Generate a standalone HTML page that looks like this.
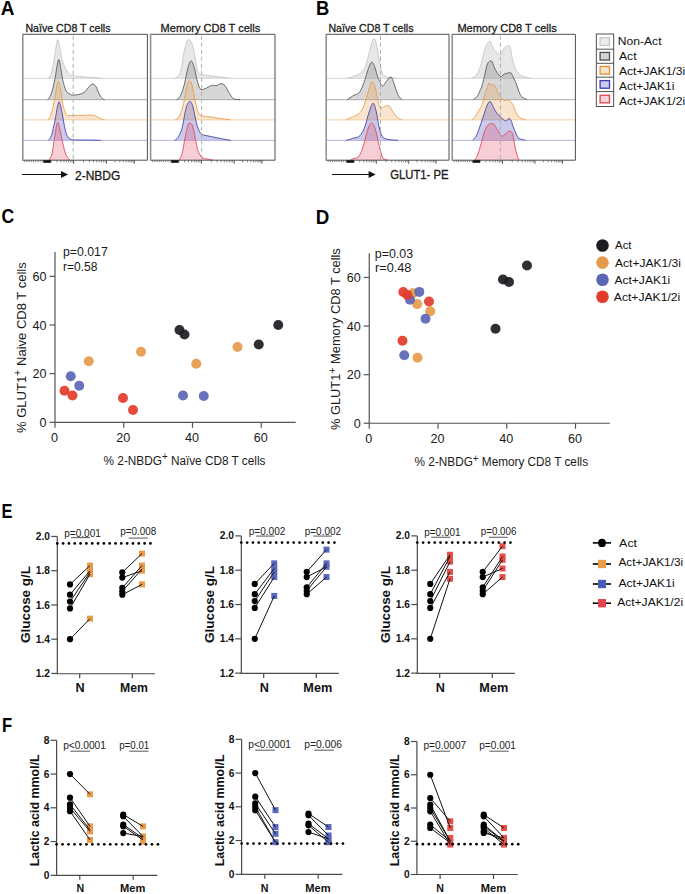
<!DOCTYPE html>
<html><head><meta charset="utf-8"><style>
html,body{margin:0;padding:0;background:#fff;}
svg{display:block;font-family:"Liberation Sans", sans-serif;}
</style></head><body>
<svg width="685" height="894" viewBox="0 0 685 894">
<rect width="685" height="894" fill="#fff"/>
<text x="0.79" y="14.60" font-size="19.50" font-weight="bold" fill="#000" textLength="13.73" lengthAdjust="spacingAndGlyphs">A</text>
<text x="315.98" y="14.70" font-size="19.50" font-weight="bold" fill="#000" textLength="13.31" lengthAdjust="spacingAndGlyphs">B</text>
<text x="1.38" y="223.40" font-size="19.50" font-weight="bold" fill="#000" textLength="12.70" lengthAdjust="spacingAndGlyphs">C</text>
<text x="315.86" y="223.50" font-size="19.50" font-weight="bold" fill="#000" textLength="13.54" lengthAdjust="spacingAndGlyphs">D</text>
<text x="1.49" y="517.90" font-size="19.50" font-weight="bold" fill="#000" textLength="10.94" lengthAdjust="spacingAndGlyphs">E</text>
<text x="1.93" y="731.80" font-size="19.50" font-weight="bold" fill="#000" textLength="10.13" lengthAdjust="spacingAndGlyphs">F</text>
<path d="M47.60,78.40 C48.17,77.73 49.90,77.57 51.00,74.40 C52.10,71.23 53.12,65.15 54.20,59.40 C55.28,53.65 56.53,41.73 57.50,39.90 C58.47,38.07 59.25,45.15 60.00,48.40 C60.75,51.65 61.00,55.90 62.00,59.40 C63.00,62.90 64.67,66.90 66.00,69.40 C67.33,71.90 68.58,73.30 70.00,74.40 C71.42,75.50 72.00,75.58 74.50,76.00 C77.00,76.42 81.58,76.63 85.00,76.90 C88.42,77.17 92.17,77.35 95.00,77.60 C97.83,77.85 100.83,78.27 102.00,78.40 L102.00,78.40 Z" fill="rgba(120,120,120,0.18)" stroke="none"/>
<line x1="22.80" y1="78.40" x2="147.40" y2="78.40" stroke="#d4d4d4" stroke-width="0.90"/>
<path d="M47.60,78.40 C48.17,77.73 49.90,77.57 51.00,74.40 C52.10,71.23 53.12,65.15 54.20,59.40 C55.28,53.65 56.53,41.73 57.50,39.90 C58.47,38.07 59.25,45.15 60.00,48.40 C60.75,51.65 61.00,55.90 62.00,59.40 C63.00,62.90 64.67,66.90 66.00,69.40 C67.33,71.90 68.58,73.30 70.00,74.40 C71.42,75.50 72.00,75.58 74.50,76.00 C77.00,76.42 81.58,76.63 85.00,76.90 C88.42,77.17 92.17,77.35 95.00,77.60 C97.83,77.85 100.83,78.27 102.00,78.40" fill="none" stroke="#bdbdbd" stroke-width="0.75" stroke-linejoin="round"/>
<path d="M47.60,99.70 C48.17,98.87 49.80,98.03 51.00,94.70 C52.20,91.37 53.55,85.53 54.80,79.70 C56.05,73.87 57.47,61.37 58.50,59.70 C59.53,58.03 60.30,66.37 61.00,69.70 C61.70,73.03 61.87,76.20 62.70,79.70 C63.53,83.20 64.78,88.28 66.00,90.70 C67.22,93.12 68.80,93.47 70.00,94.20 C71.20,94.93 71.53,95.10 73.20,95.10 C74.87,95.10 78.03,94.77 80.00,94.20 C81.97,93.63 83.50,92.95 85.00,91.70 C86.50,90.45 87.67,87.98 89.00,86.70 C90.33,85.42 91.83,84.00 93.00,84.00 C94.17,84.00 95.00,85.08 96.00,86.70 C97.00,88.32 98.00,91.78 99.00,93.70 C100.00,95.62 101.03,97.20 102.00,98.20 C102.97,99.20 104.33,99.45 104.80,99.70 L104.80,99.70 Z" fill="rgba(110,110,110,0.28)" stroke="none"/>
<line x1="22.80" y1="99.70" x2="147.40" y2="99.70" stroke="#a0a0a0" stroke-width="0.90"/>
<path d="M47.60,99.70 C48.17,98.87 49.80,98.03 51.00,94.70 C52.20,91.37 53.55,85.53 54.80,79.70 C56.05,73.87 57.47,61.37 58.50,59.70 C59.53,58.03 60.30,66.37 61.00,69.70 C61.70,73.03 61.87,76.20 62.70,79.70 C63.53,83.20 64.78,88.28 66.00,90.70 C67.22,93.12 68.80,93.47 70.00,94.20 C71.20,94.93 71.53,95.10 73.20,95.10 C74.87,95.10 78.03,94.77 80.00,94.20 C81.97,93.63 83.50,92.95 85.00,91.70 C86.50,90.45 87.67,87.98 89.00,86.70 C90.33,85.42 91.83,84.00 93.00,84.00 C94.17,84.00 95.00,85.08 96.00,86.70 C97.00,88.32 98.00,91.78 99.00,93.70 C100.00,95.62 101.03,97.20 102.00,98.20 C102.97,99.20 104.33,99.45 104.80,99.70" fill="none" stroke="#555555" stroke-width="0.85" stroke-linejoin="round"/>
<path d="M47.60,119.90 C48.17,119.07 49.85,118.23 51.00,114.90 C52.15,111.57 53.33,105.48 54.50,99.90 C55.67,94.32 56.92,82.73 58.00,81.40 C59.08,80.07 60.17,87.98 61.00,91.90 C61.83,95.82 62.25,101.40 63.00,104.90 C63.75,108.40 64.78,111.15 65.50,112.90 C66.22,114.65 65.72,114.98 67.30,115.40 C68.88,115.82 72.05,115.42 75.00,115.40 C77.95,115.38 82.50,115.38 85.00,115.30 C87.50,115.22 88.23,114.80 90.00,114.90 C91.77,115.00 93.93,115.32 95.60,115.90 C97.27,116.48 98.47,117.73 100.00,118.40 C101.53,119.07 104.00,119.65 104.80,119.90 L104.80,119.90 Z" fill="rgba(232,160,80,0.28)" stroke="none"/>
<line x1="22.80" y1="119.90" x2="147.40" y2="119.90" stroke="#f3cc9e" stroke-width="0.90"/>
<path d="M47.60,119.90 C48.17,119.07 49.85,118.23 51.00,114.90 C52.15,111.57 53.33,105.48 54.50,99.90 C55.67,94.32 56.92,82.73 58.00,81.40 C59.08,80.07 60.17,87.98 61.00,91.90 C61.83,95.82 62.25,101.40 63.00,104.90 C63.75,108.40 64.78,111.15 65.50,112.90 C66.22,114.65 65.72,114.98 67.30,115.40 C68.88,115.82 72.05,115.42 75.00,115.40 C77.95,115.38 82.50,115.38 85.00,115.30 C87.50,115.22 88.23,114.80 90.00,114.90 C91.77,115.00 93.93,115.32 95.60,115.90 C97.27,116.48 98.47,117.73 100.00,118.40 C101.53,119.07 104.00,119.65 104.80,119.90" fill="none" stroke="#e99d50" stroke-width="0.90" stroke-linejoin="round"/>
<path d="M48.30,140.40 C48.83,139.57 50.38,138.73 51.50,135.40 C52.62,132.07 53.78,125.98 55.00,120.40 C56.22,114.82 57.63,103.23 58.80,101.90 C59.97,100.57 61.05,108.32 62.00,112.40 C62.95,116.48 63.67,122.57 64.50,126.40 C65.33,130.23 65.87,133.22 67.00,135.40 C68.13,137.58 69.13,138.73 71.30,139.50 C73.47,140.27 76.88,139.90 80.00,140.00 C83.12,140.10 86.53,140.03 90.00,140.10 C93.47,140.17 99.00,140.35 100.80,140.40 L100.80,140.40 Z" fill="rgba(80,80,190,0.30)" stroke="none"/>
<line x1="22.80" y1="140.40" x2="147.40" y2="140.40" stroke="#aeaede" stroke-width="0.90"/>
<path d="M48.30,140.40 C48.83,139.57 50.38,138.73 51.50,135.40 C52.62,132.07 53.78,125.98 55.00,120.40 C56.22,114.82 57.63,103.23 58.80,101.90 C59.97,100.57 61.05,108.32 62.00,112.40 C62.95,116.48 63.67,122.57 64.50,126.40 C65.33,130.23 65.87,133.22 67.00,135.40 C68.13,137.58 69.13,138.73 71.30,139.50 C73.47,140.27 76.88,139.90 80.00,140.00 C83.12,140.10 86.53,140.03 90.00,140.10 C93.47,140.17 99.00,140.35 100.80,140.40" fill="none" stroke="#4545ab" stroke-width="0.90" stroke-linejoin="round"/>
<path d="M49.00,160.00 C49.50,159.00 51.08,157.67 52.00,154.00 C52.92,150.33 53.58,143.28 54.50,138.00 C55.42,132.72 56.58,123.63 57.50,122.30 C58.42,120.97 59.08,126.38 60.00,130.00 C60.92,133.62 62.00,139.83 63.00,144.00 C64.00,148.17 64.83,152.33 66.00,155.00 C67.17,157.67 69.33,159.17 70.00,160.00 L70.00,160.00 Z" fill="rgba(225,75,100,0.27)" stroke="none"/>
<path d="M49.00,160.00 C49.50,159.00 51.08,157.67 52.00,154.00 C52.92,150.33 53.58,143.28 54.50,138.00 C55.42,132.72 56.58,123.63 57.50,122.30 C58.42,120.97 59.08,126.38 60.00,130.00 C60.92,133.62 62.00,139.83 63.00,144.00 C64.00,148.17 64.83,152.33 66.00,155.00 C67.17,157.67 69.33,159.17 70.00,160.00" fill="none" stroke="#e24c5c" stroke-width="0.90" stroke-linejoin="round"/>
<line x1="73.20" y1="35.80" x2="73.20" y2="160.20" stroke="#ababab" stroke-width="0.95" stroke-dasharray="4,3"/>
<path d="M22.80,34.30 H147.40 V160.20 H22.80" fill="none" stroke="#4e4e4e" stroke-width="1.0"/>
<line x1="22.80" y1="33.80" x2="22.80" y2="160.70" stroke="#8c8c8c" stroke-width="1.50"/>
<line x1="51.17" y1="160.20" x2="51.17" y2="162.40" stroke="#555" stroke-width="0.70"/>
<line x1="56.83" y1="160.20" x2="56.83" y2="162.40" stroke="#555" stroke-width="0.70"/>
<line x1="60.84" y1="160.20" x2="60.84" y2="162.40" stroke="#555" stroke-width="0.70"/>
<line x1="63.96" y1="160.20" x2="63.96" y2="162.40" stroke="#555" stroke-width="0.70"/>
<line x1="66.51" y1="160.20" x2="66.51" y2="162.40" stroke="#555" stroke-width="0.70"/>
<line x1="68.66" y1="160.20" x2="68.66" y2="162.40" stroke="#555" stroke-width="0.70"/>
<line x1="70.52" y1="160.20" x2="70.52" y2="162.40" stroke="#555" stroke-width="0.70"/>
<line x1="72.17" y1="160.20" x2="72.17" y2="162.40" stroke="#555" stroke-width="0.70"/>
<line x1="83.54" y1="160.20" x2="83.54" y2="162.40" stroke="#555" stroke-width="0.70"/>
<line x1="89.33" y1="160.20" x2="89.33" y2="162.40" stroke="#555" stroke-width="0.70"/>
<line x1="93.44" y1="160.20" x2="93.44" y2="162.40" stroke="#555" stroke-width="0.70"/>
<line x1="96.63" y1="160.20" x2="96.63" y2="162.40" stroke="#555" stroke-width="0.70"/>
<line x1="99.23" y1="160.20" x2="99.23" y2="162.40" stroke="#555" stroke-width="0.70"/>
<line x1="101.44" y1="160.20" x2="101.44" y2="162.40" stroke="#555" stroke-width="0.70"/>
<line x1="103.34" y1="160.20" x2="103.34" y2="162.40" stroke="#555" stroke-width="0.70"/>
<line x1="105.03" y1="160.20" x2="105.03" y2="162.40" stroke="#555" stroke-width="0.70"/>
<line x1="114.90" y1="160.20" x2="114.90" y2="162.40" stroke="#555" stroke-width="0.70"/>
<line x1="119.79" y1="160.20" x2="119.79" y2="162.40" stroke="#555" stroke-width="0.70"/>
<line x1="123.26" y1="160.20" x2="123.26" y2="162.40" stroke="#555" stroke-width="0.70"/>
<line x1="125.95" y1="160.20" x2="125.95" y2="162.40" stroke="#555" stroke-width="0.70"/>
<line x1="128.15" y1="160.20" x2="128.15" y2="162.40" stroke="#555" stroke-width="0.70"/>
<line x1="130.01" y1="160.20" x2="130.01" y2="162.40" stroke="#555" stroke-width="0.70"/>
<line x1="131.62" y1="160.20" x2="131.62" y2="162.40" stroke="#555" stroke-width="0.70"/>
<line x1="133.05" y1="160.20" x2="133.05" y2="162.40" stroke="#555" stroke-width="0.70"/>
<line x1="73.64" y1="160.20" x2="73.64" y2="163.80" stroke="#444" stroke-width="0.90"/>
<line x1="106.53" y1="160.20" x2="106.53" y2="163.80" stroke="#444" stroke-width="0.90"/>
<line x1="134.32" y1="160.20" x2="134.32" y2="163.80" stroke="#444" stroke-width="0.90"/>
<line x1="24.80" y1="160.20" x2="24.80" y2="162.20" stroke="#555" stroke-width="0.70"/>
<line x1="27.00" y1="160.20" x2="27.00" y2="162.20" stroke="#555" stroke-width="0.70"/>
<line x1="29.20" y1="160.20" x2="29.20" y2="162.20" stroke="#555" stroke-width="0.70"/>
<line x1="31.40" y1="160.20" x2="31.40" y2="162.20" stroke="#555" stroke-width="0.70"/>
<line x1="33.60" y1="160.20" x2="33.60" y2="162.20" stroke="#555" stroke-width="0.70"/>
<line x1="35.80" y1="160.20" x2="35.80" y2="162.20" stroke="#555" stroke-width="0.70"/>
<line x1="38.00" y1="160.20" x2="38.00" y2="162.20" stroke="#555" stroke-width="0.70"/>
<line x1="40.20" y1="160.20" x2="40.20" y2="162.20" stroke="#555" stroke-width="0.70"/>
<line x1="42.40" y1="160.20" x2="42.40" y2="162.20" stroke="#555" stroke-width="0.70"/>
<line x1="44.60" y1="160.20" x2="44.60" y2="162.20" stroke="#555" stroke-width="0.70"/>
<line x1="46.80" y1="160.20" x2="46.80" y2="162.20" stroke="#555" stroke-width="0.70"/>
<line x1="49.00" y1="160.20" x2="49.00" y2="162.20" stroke="#555" stroke-width="0.70"/>
<rect x="43.36" y="160.20" width="7.5" height="2.6" fill="#111"/>
<path d="M174.50,78.40 C175.08,78.07 176.92,77.73 178.00,76.40 C179.08,75.07 180.00,74.40 181.00,70.40 C182.00,66.40 182.85,57.48 184.00,52.40 C185.15,47.32 186.53,41.23 187.90,39.90 C189.27,38.57 191.02,41.65 192.20,44.40 C193.38,47.15 194.20,52.40 195.00,56.40 C195.80,60.40 196.33,65.57 197.00,68.40 C197.67,71.23 198.00,72.32 199.00,73.40 C200.00,74.48 200.33,74.40 203.00,74.90 C205.67,75.40 211.33,75.98 215.00,76.40 C218.67,76.82 222.33,77.07 225.00,77.40 C227.67,77.73 230.00,78.23 231.00,78.40 L231.00,78.40 Z" fill="rgba(120,120,120,0.18)" stroke="none"/>
<line x1="150.60" y1="78.40" x2="275.00" y2="78.40" stroke="#d4d4d4" stroke-width="0.90"/>
<path d="M174.50,78.40 C175.08,78.07 176.92,77.73 178.00,76.40 C179.08,75.07 180.00,74.40 181.00,70.40 C182.00,66.40 182.85,57.48 184.00,52.40 C185.15,47.32 186.53,41.23 187.90,39.90 C189.27,38.57 191.02,41.65 192.20,44.40 C193.38,47.15 194.20,52.40 195.00,56.40 C195.80,60.40 196.33,65.57 197.00,68.40 C197.67,71.23 198.00,72.32 199.00,73.40 C200.00,74.48 200.33,74.40 203.00,74.90 C205.67,75.40 211.33,75.98 215.00,76.40 C218.67,76.82 222.33,77.07 225.00,77.40 C227.67,77.73 230.00,78.23 231.00,78.40" fill="none" stroke="#bdbdbd" stroke-width="0.75" stroke-linejoin="round"/>
<path d="M176.40,99.70 C177.00,99.20 178.73,99.03 180.00,96.70 C181.27,94.37 182.67,90.53 184.00,85.70 C185.33,80.87 186.82,71.83 188.00,67.70 C189.18,63.57 190.10,61.07 191.10,60.90 C192.10,60.73 193.02,63.57 194.00,66.70 C194.98,69.83 196.00,76.03 197.00,79.70 C198.00,83.37 198.83,87.12 200.00,88.70 C201.17,90.28 202.67,89.45 204.00,89.20 C205.33,88.95 206.57,87.87 208.00,87.20 C209.43,86.53 211.27,85.45 212.60,85.20 C213.93,84.95 214.60,85.95 216.00,85.70 C217.40,85.45 219.50,83.70 221.00,83.70 C222.50,83.70 223.67,84.20 225.00,85.70 C226.33,87.20 227.57,90.53 229.00,92.70 C230.43,94.87 231.77,97.53 233.60,98.70 C235.43,99.87 238.93,99.53 240.00,99.70 L240.00,99.70 Z" fill="rgba(110,110,110,0.28)" stroke="none"/>
<line x1="150.60" y1="99.70" x2="275.00" y2="99.70" stroke="#a0a0a0" stroke-width="0.90"/>
<path d="M176.40,99.70 C177.00,99.20 178.73,99.03 180.00,96.70 C181.27,94.37 182.67,90.53 184.00,85.70 C185.33,80.87 186.82,71.83 188.00,67.70 C189.18,63.57 190.10,61.07 191.10,60.90 C192.10,60.73 193.02,63.57 194.00,66.70 C194.98,69.83 196.00,76.03 197.00,79.70 C198.00,83.37 198.83,87.12 200.00,88.70 C201.17,90.28 202.67,89.45 204.00,89.20 C205.33,88.95 206.57,87.87 208.00,87.20 C209.43,86.53 211.27,85.45 212.60,85.20 C213.93,84.95 214.60,85.95 216.00,85.70 C217.40,85.45 219.50,83.70 221.00,83.70 C222.50,83.70 223.67,84.20 225.00,85.70 C226.33,87.20 227.57,90.53 229.00,92.70 C230.43,94.87 231.77,97.53 233.60,98.70 C235.43,99.87 238.93,99.53 240.00,99.70" fill="none" stroke="#555555" stroke-width="0.85" stroke-linejoin="round"/>
<path d="M175.10,119.90 C175.75,119.40 177.68,119.23 179.00,116.90 C180.32,114.57 181.67,111.07 183.00,105.90 C184.33,100.73 185.90,90.05 187.00,85.90 C188.10,81.75 188.77,81.17 189.60,81.00 C190.43,80.83 191.10,81.75 192.00,84.90 C192.90,88.05 194.00,95.40 195.00,99.90 C196.00,104.40 196.83,109.23 198.00,111.90 C199.17,114.57 200.00,115.07 202.00,115.90 C204.00,116.73 207.00,116.48 210.00,116.90 C213.00,117.32 216.50,117.90 220.00,118.40 C223.50,118.90 229.17,119.65 231.00,119.90 L231.00,119.90 Z" fill="rgba(232,160,80,0.28)" stroke="none"/>
<line x1="150.60" y1="119.90" x2="275.00" y2="119.90" stroke="#f3cc9e" stroke-width="0.90"/>
<path d="M175.10,119.90 C175.75,119.40 177.68,119.23 179.00,116.90 C180.32,114.57 181.67,111.07 183.00,105.90 C184.33,100.73 185.90,90.05 187.00,85.90 C188.10,81.75 188.77,81.17 189.60,81.00 C190.43,80.83 191.10,81.75 192.00,84.90 C192.90,88.05 194.00,95.40 195.00,99.90 C196.00,104.40 196.83,109.23 198.00,111.90 C199.17,114.57 200.00,115.07 202.00,115.90 C204.00,116.73 207.00,116.48 210.00,116.90 C213.00,117.32 216.50,117.90 220.00,118.40 C223.50,118.90 229.17,119.65 231.00,119.90" fill="none" stroke="#e99d50" stroke-width="0.90" stroke-linejoin="round"/>
<path d="M174.50,140.40 C175.08,139.90 176.75,139.40 178.00,137.40 C179.25,135.40 180.67,133.23 182.00,128.40 C183.33,123.57 184.73,112.90 186.00,108.40 C187.27,103.90 188.52,101.90 189.60,101.40 C190.68,100.90 191.60,102.90 192.50,105.40 C193.40,107.90 194.08,112.57 195.00,116.40 C195.92,120.23 196.83,125.40 198.00,128.40 C199.17,131.40 200.33,133.15 202.00,134.40 C203.67,135.65 205.83,135.40 208.00,135.90 C210.17,136.40 212.33,136.85 215.00,137.40 C217.67,137.95 221.33,138.70 224.00,139.20 C226.67,139.70 229.83,140.20 231.00,140.40 L231.00,140.40 Z" fill="rgba(80,80,190,0.30)" stroke="none"/>
<line x1="150.60" y1="140.40" x2="275.00" y2="140.40" stroke="#aeaede" stroke-width="0.90"/>
<path d="M174.50,140.40 C175.08,139.90 176.75,139.40 178.00,137.40 C179.25,135.40 180.67,133.23 182.00,128.40 C183.33,123.57 184.73,112.90 186.00,108.40 C187.27,103.90 188.52,101.90 189.60,101.40 C190.68,100.90 191.60,102.90 192.50,105.40 C193.40,107.90 194.08,112.57 195.00,116.40 C195.92,120.23 196.83,125.40 198.00,128.40 C199.17,131.40 200.33,133.15 202.00,134.40 C203.67,135.65 205.83,135.40 208.00,135.90 C210.17,136.40 212.33,136.85 215.00,137.40 C217.67,137.95 221.33,138.70 224.00,139.20 C226.67,139.70 229.83,140.20 231.00,140.40" fill="none" stroke="#4545ab" stroke-width="0.90" stroke-linejoin="round"/>
<path d="M179.00,160.00 C179.50,159.00 181.00,157.67 182.00,154.00 C183.00,150.33 184.00,142.83 185.00,138.00 C186.00,133.17 187.17,127.50 188.00,125.00 C188.83,122.50 189.17,122.67 190.00,123.00 C190.83,123.33 192.00,123.83 193.00,127.00 C194.00,130.17 195.17,138.00 196.00,142.00 C196.83,146.00 197.00,148.42 198.00,151.00 C199.00,153.58 200.50,156.17 202.00,157.50 C203.50,158.83 205.17,158.58 207.00,159.00 C208.83,159.42 212.00,159.83 213.00,160.00 L213.00,160.00 Z" fill="rgba(225,75,100,0.27)" stroke="none"/>
<path d="M179.00,160.00 C179.50,159.00 181.00,157.67 182.00,154.00 C183.00,150.33 184.00,142.83 185.00,138.00 C186.00,133.17 187.17,127.50 188.00,125.00 C188.83,122.50 189.17,122.67 190.00,123.00 C190.83,123.33 192.00,123.83 193.00,127.00 C194.00,130.17 195.17,138.00 196.00,142.00 C196.83,146.00 197.00,148.42 198.00,151.00 C199.00,153.58 200.50,156.17 202.00,157.50 C203.50,158.83 205.17,158.58 207.00,159.00 C208.83,159.42 212.00,159.83 213.00,160.00" fill="none" stroke="#e24c5c" stroke-width="0.90" stroke-linejoin="round"/>
<line x1="201.60" y1="35.80" x2="201.60" y2="160.20" stroke="#ababab" stroke-width="0.95" stroke-dasharray="4,3"/>
<path d="M150.60,34.30 H275.00 V160.20 H150.60" fill="none" stroke="#4e4e4e" stroke-width="1.0"/>
<line x1="150.60" y1="33.80" x2="150.60" y2="160.70" stroke="#8c8c8c" stroke-width="1.50"/>
<line x1="178.92" y1="160.20" x2="178.92" y2="162.40" stroke="#555" stroke-width="0.70"/>
<line x1="184.57" y1="160.20" x2="184.57" y2="162.40" stroke="#555" stroke-width="0.70"/>
<line x1="188.58" y1="160.20" x2="188.58" y2="162.40" stroke="#555" stroke-width="0.70"/>
<line x1="191.69" y1="160.20" x2="191.69" y2="162.40" stroke="#555" stroke-width="0.70"/>
<line x1="194.23" y1="160.20" x2="194.23" y2="162.40" stroke="#555" stroke-width="0.70"/>
<line x1="196.38" y1="160.20" x2="196.38" y2="162.40" stroke="#555" stroke-width="0.70"/>
<line x1="198.24" y1="160.20" x2="198.24" y2="162.40" stroke="#555" stroke-width="0.70"/>
<line x1="199.89" y1="160.20" x2="199.89" y2="162.40" stroke="#555" stroke-width="0.70"/>
<line x1="211.24" y1="160.20" x2="211.24" y2="162.40" stroke="#555" stroke-width="0.70"/>
<line x1="217.02" y1="160.20" x2="217.02" y2="162.40" stroke="#555" stroke-width="0.70"/>
<line x1="221.13" y1="160.20" x2="221.13" y2="162.40" stroke="#555" stroke-width="0.70"/>
<line x1="224.31" y1="160.20" x2="224.31" y2="162.40" stroke="#555" stroke-width="0.70"/>
<line x1="226.91" y1="160.20" x2="226.91" y2="162.40" stroke="#555" stroke-width="0.70"/>
<line x1="229.11" y1="160.20" x2="229.11" y2="162.40" stroke="#555" stroke-width="0.70"/>
<line x1="231.01" y1="160.20" x2="231.01" y2="162.40" stroke="#555" stroke-width="0.70"/>
<line x1="232.69" y1="160.20" x2="232.69" y2="162.40" stroke="#555" stroke-width="0.70"/>
<line x1="242.55" y1="160.20" x2="242.55" y2="162.40" stroke="#555" stroke-width="0.70"/>
<line x1="247.43" y1="160.20" x2="247.43" y2="162.40" stroke="#555" stroke-width="0.70"/>
<line x1="250.90" y1="160.20" x2="250.90" y2="162.40" stroke="#555" stroke-width="0.70"/>
<line x1="253.59" y1="160.20" x2="253.59" y2="162.40" stroke="#555" stroke-width="0.70"/>
<line x1="255.78" y1="160.20" x2="255.78" y2="162.40" stroke="#555" stroke-width="0.70"/>
<line x1="257.64" y1="160.20" x2="257.64" y2="162.40" stroke="#555" stroke-width="0.70"/>
<line x1="259.25" y1="160.20" x2="259.25" y2="162.40" stroke="#555" stroke-width="0.70"/>
<line x1="260.67" y1="160.20" x2="260.67" y2="162.40" stroke="#555" stroke-width="0.70"/>
<line x1="201.36" y1="160.20" x2="201.36" y2="163.80" stroke="#444" stroke-width="0.90"/>
<line x1="234.20" y1="160.20" x2="234.20" y2="163.80" stroke="#444" stroke-width="0.90"/>
<line x1="261.94" y1="160.20" x2="261.94" y2="163.80" stroke="#444" stroke-width="0.90"/>
<line x1="152.60" y1="160.20" x2="152.60" y2="162.20" stroke="#555" stroke-width="0.70"/>
<line x1="154.80" y1="160.20" x2="154.80" y2="162.20" stroke="#555" stroke-width="0.70"/>
<line x1="157.00" y1="160.20" x2="157.00" y2="162.20" stroke="#555" stroke-width="0.70"/>
<line x1="159.20" y1="160.20" x2="159.20" y2="162.20" stroke="#555" stroke-width="0.70"/>
<line x1="161.40" y1="160.20" x2="161.40" y2="162.20" stroke="#555" stroke-width="0.70"/>
<line x1="163.60" y1="160.20" x2="163.60" y2="162.20" stroke="#555" stroke-width="0.70"/>
<line x1="165.80" y1="160.20" x2="165.80" y2="162.20" stroke="#555" stroke-width="0.70"/>
<line x1="168.00" y1="160.20" x2="168.00" y2="162.20" stroke="#555" stroke-width="0.70"/>
<line x1="170.20" y1="160.20" x2="170.20" y2="162.20" stroke="#555" stroke-width="0.70"/>
<line x1="172.40" y1="160.20" x2="172.40" y2="162.20" stroke="#555" stroke-width="0.70"/>
<line x1="174.60" y1="160.20" x2="174.60" y2="162.20" stroke="#555" stroke-width="0.70"/>
<line x1="176.80" y1="160.20" x2="176.80" y2="162.20" stroke="#555" stroke-width="0.70"/>
<rect x="171.13" y="160.20" width="7.5" height="2.6" fill="#111"/>
<path d="M346.40,78.40 C347.33,78.15 350.23,77.48 352.00,76.90 C353.77,76.32 355.50,75.57 357.00,74.90 C358.50,74.23 359.60,74.25 361.00,72.90 C362.40,71.55 364.07,70.05 365.40,66.80 C366.73,63.55 367.63,58.10 369.00,53.40 C370.37,48.70 372.27,39.77 373.60,38.60 C374.93,37.43 376.10,43.10 377.00,46.40 C377.90,49.70 378.20,54.23 379.00,58.40 C379.80,62.57 380.80,68.40 381.80,71.40 C382.80,74.40 383.30,75.37 385.00,76.40 C386.70,77.43 389.83,77.27 392.00,77.60 C394.17,77.93 397.00,78.27 398.00,78.40 L398.00,78.40 Z" fill="rgba(120,120,120,0.18)" stroke="none"/>
<line x1="326.20" y1="78.40" x2="449.00" y2="78.40" stroke="#d4d4d4" stroke-width="0.90"/>
<path d="M346.40,78.40 C347.33,78.15 350.23,77.48 352.00,76.90 C353.77,76.32 355.50,75.57 357.00,74.90 C358.50,74.23 359.60,74.25 361.00,72.90 C362.40,71.55 364.07,70.05 365.40,66.80 C366.73,63.55 367.63,58.10 369.00,53.40 C370.37,48.70 372.27,39.77 373.60,38.60 C374.93,37.43 376.10,43.10 377.00,46.40 C377.90,49.70 378.20,54.23 379.00,58.40 C379.80,62.57 380.80,68.40 381.80,71.40 C382.80,74.40 383.30,75.37 385.00,76.40 C386.70,77.43 389.83,77.27 392.00,77.60 C394.17,77.93 397.00,78.27 398.00,78.40" fill="none" stroke="#bdbdbd" stroke-width="0.75" stroke-linejoin="round"/>
<path d="M347.00,99.70 C347.67,99.28 349.80,97.97 351.00,97.20 C352.20,96.43 353.03,95.68 354.20,95.10 C355.37,94.52 356.87,94.60 358.00,93.70 C359.13,92.80 359.83,92.03 361.00,89.70 C362.17,87.37 363.83,83.03 365.00,79.70 C366.17,76.37 366.88,72.62 368.00,69.70 C369.12,66.78 370.53,62.53 371.70,62.20 C372.87,61.87 373.95,65.12 375.00,67.70 C376.05,70.28 376.75,74.67 378.00,77.70 C379.25,80.73 381.17,85.23 382.50,85.90 C383.83,86.57 384.68,83.17 386.00,81.70 C387.32,80.23 389.23,77.27 390.40,77.10 C391.57,76.93 392.07,78.60 393.00,80.70 C393.93,82.80 395.00,87.03 396.00,89.70 C397.00,92.37 397.97,95.03 399.00,96.70 C400.03,98.37 401.67,99.20 402.20,99.70 L402.20,99.70 Z" fill="rgba(110,110,110,0.28)" stroke="none"/>
<line x1="326.20" y1="99.70" x2="449.00" y2="99.70" stroke="#a0a0a0" stroke-width="0.90"/>
<path d="M347.00,99.70 C347.67,99.28 349.80,97.97 351.00,97.20 C352.20,96.43 353.03,95.68 354.20,95.10 C355.37,94.52 356.87,94.60 358.00,93.70 C359.13,92.80 359.83,92.03 361.00,89.70 C362.17,87.37 363.83,83.03 365.00,79.70 C366.17,76.37 366.88,72.62 368.00,69.70 C369.12,66.78 370.53,62.53 371.70,62.20 C372.87,61.87 373.95,65.12 375.00,67.70 C376.05,70.28 376.75,74.67 378.00,77.70 C379.25,80.73 381.17,85.23 382.50,85.90 C383.83,86.57 384.68,83.17 386.00,81.70 C387.32,80.23 389.23,77.27 390.40,77.10 C391.57,76.93 392.07,78.60 393.00,80.70 C393.93,82.80 395.00,87.03 396.00,89.70 C397.00,92.37 397.97,95.03 399.00,96.70 C400.03,98.37 401.67,99.20 402.20,99.70" fill="none" stroke="#555555" stroke-width="0.85" stroke-linejoin="round"/>
<path d="M345.70,119.90 C346.25,119.65 347.68,118.98 349.00,118.40 C350.32,117.82 352.27,116.98 353.60,116.40 C354.93,115.82 356.02,115.45 357.00,114.90 C357.98,114.35 358.50,114.27 359.50,113.10 C360.50,111.93 361.75,110.77 363.00,107.90 C364.25,105.03 365.83,99.57 367.00,95.90 C368.17,92.23 369.17,88.28 370.00,85.90 C370.83,83.52 371.17,81.43 372.00,81.60 C372.83,81.77 374.08,84.18 375.00,86.90 C375.92,89.62 376.75,94.57 377.50,97.90 C378.25,101.23 378.67,105.28 379.50,106.90 C380.33,108.52 381.58,107.68 382.50,107.60 C383.42,107.52 384.12,106.75 385.00,106.40 C385.88,106.05 386.97,105.42 387.80,105.50 C388.63,105.58 388.92,105.50 390.00,106.90 C391.08,108.30 392.97,112.07 394.30,113.90 C395.63,115.73 396.68,116.90 398.00,117.90 C399.32,118.90 401.50,119.57 402.20,119.90 L402.20,119.90 Z" fill="rgba(232,160,80,0.28)" stroke="none"/>
<line x1="326.20" y1="119.90" x2="449.00" y2="119.90" stroke="#f3cc9e" stroke-width="0.90"/>
<path d="M345.70,119.90 C346.25,119.65 347.68,118.98 349.00,118.40 C350.32,117.82 352.27,116.98 353.60,116.40 C354.93,115.82 356.02,115.45 357.00,114.90 C357.98,114.35 358.50,114.27 359.50,113.10 C360.50,111.93 361.75,110.77 363.00,107.90 C364.25,105.03 365.83,99.57 367.00,95.90 C368.17,92.23 369.17,88.28 370.00,85.90 C370.83,83.52 371.17,81.43 372.00,81.60 C372.83,81.77 374.08,84.18 375.00,86.90 C375.92,89.62 376.75,94.57 377.50,97.90 C378.25,101.23 378.67,105.28 379.50,106.90 C380.33,108.52 381.58,107.68 382.50,107.60 C383.42,107.52 384.12,106.75 385.00,106.40 C385.88,106.05 386.97,105.42 387.80,105.50 C388.63,105.58 388.92,105.50 390.00,106.90 C391.08,108.30 392.97,112.07 394.30,113.90 C395.63,115.73 396.68,116.90 398.00,117.90 C399.32,118.90 401.50,119.57 402.20,119.90" fill="none" stroke="#e99d50" stroke-width="0.90" stroke-linejoin="round"/>
<path d="M345.70,140.40 C346.42,140.23 348.62,139.82 350.00,139.40 C351.38,138.98 352.75,138.27 354.00,137.90 C355.25,137.53 356.33,137.78 357.50,137.20 C358.67,136.62 359.75,136.20 361.00,134.40 C362.25,132.60 363.67,130.07 365.00,126.40 C366.33,122.73 367.67,116.27 369.00,112.40 C370.33,108.53 371.83,103.53 373.00,103.20 C374.17,102.87 374.97,106.37 376.00,110.40 C377.03,114.43 378.12,123.02 379.20,127.40 C380.28,131.78 381.03,134.70 382.50,136.70 C383.97,138.70 385.42,138.78 388.00,139.40 C390.58,140.02 396.33,140.23 398.00,140.40 L398.00,140.40 Z" fill="rgba(80,80,190,0.30)" stroke="none"/>
<line x1="326.20" y1="140.40" x2="449.00" y2="140.40" stroke="#aeaede" stroke-width="0.90"/>
<path d="M345.70,140.40 C346.42,140.23 348.62,139.82 350.00,139.40 C351.38,138.98 352.75,138.27 354.00,137.90 C355.25,137.53 356.33,137.78 357.50,137.20 C358.67,136.62 359.75,136.20 361.00,134.40 C362.25,132.60 363.67,130.07 365.00,126.40 C366.33,122.73 367.67,116.27 369.00,112.40 C370.33,108.53 371.83,103.53 373.00,103.20 C374.17,102.87 374.97,106.37 376.00,110.40 C377.03,114.43 378.12,123.02 379.20,127.40 C380.28,131.78 381.03,134.70 382.50,136.70 C383.97,138.70 385.42,138.78 388.00,139.40 C390.58,140.02 396.33,140.23 398.00,140.40" fill="none" stroke="#4545ab" stroke-width="0.90" stroke-linejoin="round"/>
<path d="M350.30,160.00 C350.92,159.75 352.68,159.00 354.00,158.50 C355.32,158.00 356.87,158.42 358.20,157.00 C359.53,155.58 360.70,153.50 362.00,150.00 C363.30,146.50 364.83,140.00 366.00,136.00 C367.17,132.00 367.97,128.17 369.00,126.00 C370.03,123.83 371.20,122.67 372.20,123.00 C373.20,123.33 374.20,125.83 375.00,128.00 C375.80,130.17 376.30,133.00 377.00,136.00 C377.70,139.00 378.28,142.50 379.20,146.00 C380.12,149.50 381.53,154.80 382.50,157.00 C383.47,159.20 384.08,158.70 385.00,159.20 C385.92,159.70 387.50,159.87 388.00,160.00 L388.00,160.00 Z" fill="rgba(225,75,100,0.27)" stroke="none"/>
<path d="M350.30,160.00 C350.92,159.75 352.68,159.00 354.00,158.50 C355.32,158.00 356.87,158.42 358.20,157.00 C359.53,155.58 360.70,153.50 362.00,150.00 C363.30,146.50 364.83,140.00 366.00,136.00 C367.17,132.00 367.97,128.17 369.00,126.00 C370.03,123.83 371.20,122.67 372.20,123.00 C373.20,123.33 374.20,125.83 375.00,128.00 C375.80,130.17 376.30,133.00 377.00,136.00 C377.70,139.00 378.28,142.50 379.20,146.00 C380.12,149.50 381.53,154.80 382.50,157.00 C383.47,159.20 384.08,158.70 385.00,159.20 C385.92,159.70 387.50,159.87 388.00,160.00" fill="none" stroke="#e24c5c" stroke-width="0.90" stroke-linejoin="round"/>
<line x1="380.50" y1="35.80" x2="380.50" y2="160.20" stroke="#ababab" stroke-width="0.95" stroke-dasharray="4,3"/>
<path d="M326.20,34.30 H449.00 V160.20 H326.20" fill="none" stroke="#4e4e4e" stroke-width="1.0"/>
<line x1="326.20" y1="33.80" x2="326.20" y2="160.70" stroke="#8c8c8c" stroke-width="1.50"/>
<line x1="354.16" y1="160.20" x2="354.16" y2="162.40" stroke="#555" stroke-width="0.70"/>
<line x1="359.74" y1="160.20" x2="359.74" y2="162.40" stroke="#555" stroke-width="0.70"/>
<line x1="363.69" y1="160.20" x2="363.69" y2="162.40" stroke="#555" stroke-width="0.70"/>
<line x1="366.77" y1="160.20" x2="366.77" y2="162.40" stroke="#555" stroke-width="0.70"/>
<line x1="369.27" y1="160.20" x2="369.27" y2="162.40" stroke="#555" stroke-width="0.70"/>
<line x1="371.39" y1="160.20" x2="371.39" y2="162.40" stroke="#555" stroke-width="0.70"/>
<line x1="373.23" y1="160.20" x2="373.23" y2="162.40" stroke="#555" stroke-width="0.70"/>
<line x1="374.85" y1="160.20" x2="374.85" y2="162.40" stroke="#555" stroke-width="0.70"/>
<line x1="386.06" y1="160.20" x2="386.06" y2="162.40" stroke="#555" stroke-width="0.70"/>
<line x1="391.77" y1="160.20" x2="391.77" y2="162.40" stroke="#555" stroke-width="0.70"/>
<line x1="395.82" y1="160.20" x2="395.82" y2="162.40" stroke="#555" stroke-width="0.70"/>
<line x1="398.96" y1="160.20" x2="398.96" y2="162.40" stroke="#555" stroke-width="0.70"/>
<line x1="401.53" y1="160.20" x2="401.53" y2="162.40" stroke="#555" stroke-width="0.70"/>
<line x1="403.70" y1="160.20" x2="403.70" y2="162.40" stroke="#555" stroke-width="0.70"/>
<line x1="405.58" y1="160.20" x2="405.58" y2="162.40" stroke="#555" stroke-width="0.70"/>
<line x1="407.24" y1="160.20" x2="407.24" y2="162.40" stroke="#555" stroke-width="0.70"/>
<line x1="416.97" y1="160.20" x2="416.97" y2="162.40" stroke="#555" stroke-width="0.70"/>
<line x1="421.79" y1="160.20" x2="421.79" y2="162.40" stroke="#555" stroke-width="0.70"/>
<line x1="425.21" y1="160.20" x2="425.21" y2="162.40" stroke="#555" stroke-width="0.70"/>
<line x1="427.86" y1="160.20" x2="427.86" y2="162.40" stroke="#555" stroke-width="0.70"/>
<line x1="430.03" y1="160.20" x2="430.03" y2="162.40" stroke="#555" stroke-width="0.70"/>
<line x1="431.86" y1="160.20" x2="431.86" y2="162.40" stroke="#555" stroke-width="0.70"/>
<line x1="433.45" y1="160.20" x2="433.45" y2="162.40" stroke="#555" stroke-width="0.70"/>
<line x1="434.85" y1="160.20" x2="434.85" y2="162.40" stroke="#555" stroke-width="0.70"/>
<line x1="376.30" y1="160.20" x2="376.30" y2="163.80" stroke="#444" stroke-width="0.90"/>
<line x1="408.72" y1="160.20" x2="408.72" y2="163.80" stroke="#444" stroke-width="0.90"/>
<line x1="436.11" y1="160.20" x2="436.11" y2="163.80" stroke="#444" stroke-width="0.90"/>
<line x1="328.20" y1="160.20" x2="328.20" y2="162.20" stroke="#555" stroke-width="0.70"/>
<line x1="330.40" y1="160.20" x2="330.40" y2="162.20" stroke="#555" stroke-width="0.70"/>
<line x1="332.60" y1="160.20" x2="332.60" y2="162.20" stroke="#555" stroke-width="0.70"/>
<line x1="334.80" y1="160.20" x2="334.80" y2="162.20" stroke="#555" stroke-width="0.70"/>
<line x1="337.00" y1="160.20" x2="337.00" y2="162.20" stroke="#555" stroke-width="0.70"/>
<line x1="339.20" y1="160.20" x2="339.20" y2="162.20" stroke="#555" stroke-width="0.70"/>
<line x1="341.40" y1="160.20" x2="341.40" y2="162.20" stroke="#555" stroke-width="0.70"/>
<line x1="343.60" y1="160.20" x2="343.60" y2="162.20" stroke="#555" stroke-width="0.70"/>
<line x1="345.80" y1="160.20" x2="345.80" y2="162.20" stroke="#555" stroke-width="0.70"/>
<line x1="348.00" y1="160.20" x2="348.00" y2="162.20" stroke="#555" stroke-width="0.70"/>
<line x1="350.20" y1="160.20" x2="350.20" y2="162.20" stroke="#555" stroke-width="0.70"/>
<line x1="352.40" y1="160.20" x2="352.40" y2="162.20" stroke="#555" stroke-width="0.70"/>
<rect x="346.46" y="160.20" width="7.5" height="2.6" fill="#111"/>
<path d="M471.00,78.40 C471.67,78.07 473.83,77.40 475.00,76.40 C476.17,75.40 477.00,74.40 478.00,72.40 C479.00,70.40 480.08,67.40 481.00,64.40 C481.92,61.40 482.75,57.28 483.50,54.40 C484.25,51.52 484.47,49.30 485.50,47.10 C486.53,44.90 488.62,41.48 489.70,41.20 C490.78,40.92 491.28,43.97 492.00,45.40 C492.72,46.83 493.17,48.63 494.00,49.80 C494.83,50.97 495.90,51.63 497.00,52.40 C498.10,53.17 499.43,55.07 500.60,54.40 C501.77,53.73 502.68,49.87 504.00,48.40 C505.32,46.93 507.42,45.60 508.50,45.60 C509.58,45.60 509.85,46.17 510.50,48.40 C511.15,50.63 511.73,56.00 512.40,59.00 C513.07,62.00 513.83,64.43 514.50,66.40 C515.17,68.37 515.48,69.38 516.40,70.80 C517.32,72.22 518.57,73.88 520.00,74.90 C521.43,75.92 523.17,76.32 525.00,76.90 C526.83,77.48 530.00,78.15 531.00,78.40 L531.00,78.40 Z" fill="rgba(120,120,120,0.18)" stroke="none"/>
<line x1="452.20" y1="78.40" x2="575.40" y2="78.40" stroke="#d4d4d4" stroke-width="0.90"/>
<path d="M471.00,78.40 C471.67,78.07 473.83,77.40 475.00,76.40 C476.17,75.40 477.00,74.40 478.00,72.40 C479.00,70.40 480.08,67.40 481.00,64.40 C481.92,61.40 482.75,57.28 483.50,54.40 C484.25,51.52 484.47,49.30 485.50,47.10 C486.53,44.90 488.62,41.48 489.70,41.20 C490.78,40.92 491.28,43.97 492.00,45.40 C492.72,46.83 493.17,48.63 494.00,49.80 C494.83,50.97 495.90,51.63 497.00,52.40 C498.10,53.17 499.43,55.07 500.60,54.40 C501.77,53.73 502.68,49.87 504.00,48.40 C505.32,46.93 507.42,45.60 508.50,45.60 C509.58,45.60 509.85,46.17 510.50,48.40 C511.15,50.63 511.73,56.00 512.40,59.00 C513.07,62.00 513.83,64.43 514.50,66.40 C515.17,68.37 515.48,69.38 516.40,70.80 C517.32,72.22 518.57,73.88 520.00,74.90 C521.43,75.92 523.17,76.32 525.00,76.90 C526.83,77.48 530.00,78.15 531.00,78.40" fill="none" stroke="#bdbdbd" stroke-width="0.75" stroke-linejoin="round"/>
<path d="M473.00,99.70 C473.67,99.20 475.83,98.20 477.00,96.70 C478.17,95.20 479.13,92.62 480.00,90.70 C480.87,88.78 481.37,88.03 482.20,85.20 C483.03,82.37 484.12,77.28 485.00,73.70 C485.88,70.12 486.43,65.83 487.50,63.70 C488.57,61.57 490.32,60.40 491.40,60.90 C492.48,61.40 493.12,64.83 494.00,66.70 C494.88,68.57 495.55,70.43 496.70,72.10 C497.85,73.77 499.68,76.35 500.90,76.70 C502.12,77.05 502.40,74.85 504.00,74.20 C505.60,73.55 509.00,72.38 510.50,72.80 C512.00,73.22 512.02,74.83 513.00,76.70 C513.98,78.57 515.40,81.50 516.40,84.00 C517.40,86.50 518.13,89.58 519.00,91.70 C519.87,93.82 520.27,95.37 521.60,96.70 C522.93,98.03 526.10,99.20 527.00,99.70 L527.00,99.70 Z" fill="rgba(110,110,110,0.28)" stroke="none"/>
<line x1="452.20" y1="99.70" x2="575.40" y2="99.70" stroke="#a0a0a0" stroke-width="0.90"/>
<path d="M473.00,99.70 C473.67,99.20 475.83,98.20 477.00,96.70 C478.17,95.20 479.13,92.62 480.00,90.70 C480.87,88.78 481.37,88.03 482.20,85.20 C483.03,82.37 484.12,77.28 485.00,73.70 C485.88,70.12 486.43,65.83 487.50,63.70 C488.57,61.57 490.32,60.40 491.40,60.90 C492.48,61.40 493.12,64.83 494.00,66.70 C494.88,68.57 495.55,70.43 496.70,72.10 C497.85,73.77 499.68,76.35 500.90,76.70 C502.12,77.05 502.40,74.85 504.00,74.20 C505.60,73.55 509.00,72.38 510.50,72.80 C512.00,73.22 512.02,74.83 513.00,76.70 C513.98,78.57 515.40,81.50 516.40,84.00 C517.40,86.50 518.13,89.58 519.00,91.70 C519.87,93.82 520.27,95.37 521.60,96.70 C522.93,98.03 526.10,99.20 527.00,99.70" fill="none" stroke="#555555" stroke-width="0.85" stroke-linejoin="round"/>
<path d="M471.70,119.90 C472.25,119.40 473.95,118.23 475.00,116.90 C476.05,115.57 476.80,113.97 478.00,111.90 C479.20,109.83 481.03,107.50 482.20,104.50 C483.37,101.50 483.90,97.43 485.00,93.90 C486.10,90.37 487.88,84.72 488.80,83.30 C489.72,81.88 489.85,85.22 490.50,85.40 C491.15,85.58 491.87,84.15 492.70,84.40 C493.53,84.65 494.62,85.32 495.50,86.90 C496.38,88.48 497.03,92.17 498.00,93.90 C498.97,95.63 500.20,96.18 501.30,97.30 C502.40,98.42 503.52,100.17 504.60,100.60 C505.68,101.03 506.82,99.77 507.80,99.90 C508.78,100.03 509.62,100.52 510.50,101.40 C511.38,102.28 512.35,103.78 513.10,105.20 C513.85,106.62 514.45,108.58 515.00,109.90 C515.55,111.22 515.73,111.93 516.40,113.10 C517.07,114.27 518.07,115.97 519.00,116.90 C519.93,117.83 520.83,118.20 522.00,118.70 C523.17,119.20 525.33,119.70 526.00,119.90 L526.00,119.90 Z" fill="rgba(232,160,80,0.28)" stroke="none"/>
<line x1="452.20" y1="119.90" x2="575.40" y2="119.90" stroke="#f3cc9e" stroke-width="0.90"/>
<path d="M471.70,119.90 C472.25,119.40 473.95,118.23 475.00,116.90 C476.05,115.57 476.80,113.97 478.00,111.90 C479.20,109.83 481.03,107.50 482.20,104.50 C483.37,101.50 483.90,97.43 485.00,93.90 C486.10,90.37 487.88,84.72 488.80,83.30 C489.72,81.88 489.85,85.22 490.50,85.40 C491.15,85.58 491.87,84.15 492.70,84.40 C493.53,84.65 494.62,85.32 495.50,86.90 C496.38,88.48 497.03,92.17 498.00,93.90 C498.97,95.63 500.20,96.18 501.30,97.30 C502.40,98.42 503.52,100.17 504.60,100.60 C505.68,101.03 506.82,99.77 507.80,99.90 C508.78,100.03 509.62,100.52 510.50,101.40 C511.38,102.28 512.35,103.78 513.10,105.20 C513.85,106.62 514.45,108.58 515.00,109.90 C515.55,111.22 515.73,111.93 516.40,113.10 C517.07,114.27 518.07,115.97 519.00,116.90 C519.93,117.83 520.83,118.20 522.00,118.70 C523.17,119.20 525.33,119.70 526.00,119.90" fill="none" stroke="#e99d50" stroke-width="0.90" stroke-linejoin="round"/>
<path d="M472.40,140.40 C473.00,139.73 474.98,138.07 476.00,136.40 C477.02,134.73 477.68,132.53 478.50,130.40 C479.32,128.27 479.98,126.27 480.90,123.60 C481.82,120.93 482.98,117.43 484.00,114.40 C485.02,111.37 485.98,107.55 487.00,105.40 C488.02,103.25 489.10,101.33 490.10,101.50 C491.10,101.67 491.90,104.47 493.00,106.40 C494.10,108.33 495.32,111.22 496.70,113.10 C498.08,114.98 499.77,116.38 501.30,117.70 C502.83,119.02 504.70,120.85 505.90,121.00 C507.10,121.15 507.63,118.70 508.50,118.60 C509.37,118.50 510.35,119.10 511.10,120.40 C511.85,121.70 512.33,124.55 513.00,126.40 C513.67,128.25 514.43,129.92 515.10,131.50 C515.77,133.08 516.35,134.75 517.00,135.90 C517.65,137.05 517.57,137.65 519.00,138.40 C520.43,139.15 524.50,140.07 525.60,140.40 L525.60,140.40 Z" fill="rgba(80,80,190,0.30)" stroke="none"/>
<line x1="452.20" y1="140.40" x2="575.40" y2="140.40" stroke="#aeaede" stroke-width="0.90"/>
<path d="M472.40,140.40 C473.00,139.73 474.98,138.07 476.00,136.40 C477.02,134.73 477.68,132.53 478.50,130.40 C479.32,128.27 479.98,126.27 480.90,123.60 C481.82,120.93 482.98,117.43 484.00,114.40 C485.02,111.37 485.98,107.55 487.00,105.40 C488.02,103.25 489.10,101.33 490.10,101.50 C491.10,101.67 491.90,104.47 493.00,106.40 C494.10,108.33 495.32,111.22 496.70,113.10 C498.08,114.98 499.77,116.38 501.30,117.70 C502.83,119.02 504.70,120.85 505.90,121.00 C507.10,121.15 507.63,118.70 508.50,118.60 C509.37,118.50 510.35,119.10 511.10,120.40 C511.85,121.70 512.33,124.55 513.00,126.40 C513.67,128.25 514.43,129.92 515.10,131.50 C515.77,133.08 516.35,134.75 517.00,135.90 C517.65,137.05 517.57,137.65 519.00,138.40 C520.43,139.15 524.50,140.07 525.60,140.40" fill="none" stroke="#4545ab" stroke-width="0.90" stroke-linejoin="round"/>
<path d="M475.00,160.00 C475.50,159.00 477.00,156.67 478.00,154.00 C479.00,151.33 480.08,147.17 481.00,144.00 C481.92,140.83 482.75,137.53 483.50,135.00 C484.25,132.47 484.75,130.47 485.50,128.80 C486.25,127.13 487.02,125.87 488.00,125.00 C488.98,124.13 490.40,123.72 491.40,123.60 C492.40,123.48 493.02,123.32 494.00,124.30 C494.98,125.28 496.30,127.88 497.30,129.50 C498.30,131.12 499.12,132.90 500.00,134.00 C500.88,135.10 501.60,136.18 502.60,136.10 C503.60,136.02 504.90,134.32 506.00,133.50 C507.10,132.68 508.20,131.37 509.20,131.20 C510.20,131.03 511.28,131.37 512.00,132.50 C512.72,133.63 512.98,135.55 513.50,138.00 C514.02,140.45 514.52,144.37 515.10,147.20 C515.68,150.03 516.35,152.87 517.00,155.00 C517.65,157.13 518.67,159.17 519.00,160.00 L519.00,160.00 Z" fill="rgba(225,75,100,0.27)" stroke="none"/>
<path d="M475.00,160.00 C475.50,159.00 477.00,156.67 478.00,154.00 C479.00,151.33 480.08,147.17 481.00,144.00 C481.92,140.83 482.75,137.53 483.50,135.00 C484.25,132.47 484.75,130.47 485.50,128.80 C486.25,127.13 487.02,125.87 488.00,125.00 C488.98,124.13 490.40,123.72 491.40,123.60 C492.40,123.48 493.02,123.32 494.00,124.30 C494.98,125.28 496.30,127.88 497.30,129.50 C498.30,131.12 499.12,132.90 500.00,134.00 C500.88,135.10 501.60,136.18 502.60,136.10 C503.60,136.02 504.90,134.32 506.00,133.50 C507.10,132.68 508.20,131.37 509.20,131.20 C510.20,131.03 511.28,131.37 512.00,132.50 C512.72,133.63 512.98,135.55 513.50,138.00 C514.02,140.45 514.52,144.37 515.10,147.20 C515.68,150.03 516.35,152.87 517.00,155.00 C517.65,157.13 518.67,159.17 519.00,160.00" fill="none" stroke="#e24c5c" stroke-width="0.90" stroke-linejoin="round"/>
<line x1="500.40" y1="35.80" x2="500.40" y2="160.20" stroke="#ababab" stroke-width="0.95" stroke-dasharray="4,3"/>
<path d="M452.20,34.30 H575.40 V160.20 H452.20" fill="none" stroke="#4e4e4e" stroke-width="1.0"/>
<line x1="452.20" y1="33.80" x2="452.20" y2="160.70" stroke="#8c8c8c" stroke-width="1.50"/>
<line x1="480.25" y1="160.20" x2="480.25" y2="162.40" stroke="#555" stroke-width="0.70"/>
<line x1="485.85" y1="160.20" x2="485.85" y2="162.40" stroke="#555" stroke-width="0.70"/>
<line x1="489.82" y1="160.20" x2="489.82" y2="162.40" stroke="#555" stroke-width="0.70"/>
<line x1="492.90" y1="160.20" x2="492.90" y2="162.40" stroke="#555" stroke-width="0.70"/>
<line x1="495.41" y1="160.20" x2="495.41" y2="162.40" stroke="#555" stroke-width="0.70"/>
<line x1="497.54" y1="160.20" x2="497.54" y2="162.40" stroke="#555" stroke-width="0.70"/>
<line x1="499.39" y1="160.20" x2="499.39" y2="162.40" stroke="#555" stroke-width="0.70"/>
<line x1="501.01" y1="160.20" x2="501.01" y2="162.40" stroke="#555" stroke-width="0.70"/>
<line x1="512.26" y1="160.20" x2="512.26" y2="162.40" stroke="#555" stroke-width="0.70"/>
<line x1="517.98" y1="160.20" x2="517.98" y2="162.40" stroke="#555" stroke-width="0.70"/>
<line x1="522.05" y1="160.20" x2="522.05" y2="162.40" stroke="#555" stroke-width="0.70"/>
<line x1="525.20" y1="160.20" x2="525.20" y2="162.40" stroke="#555" stroke-width="0.70"/>
<line x1="527.77" y1="160.20" x2="527.77" y2="162.40" stroke="#555" stroke-width="0.70"/>
<line x1="529.95" y1="160.20" x2="529.95" y2="162.40" stroke="#555" stroke-width="0.70"/>
<line x1="531.84" y1="160.20" x2="531.84" y2="162.40" stroke="#555" stroke-width="0.70"/>
<line x1="533.50" y1="160.20" x2="533.50" y2="162.40" stroke="#555" stroke-width="0.70"/>
<line x1="543.26" y1="160.20" x2="543.26" y2="162.40" stroke="#555" stroke-width="0.70"/>
<line x1="548.10" y1="160.20" x2="548.10" y2="162.40" stroke="#555" stroke-width="0.70"/>
<line x1="551.53" y1="160.20" x2="551.53" y2="162.40" stroke="#555" stroke-width="0.70"/>
<line x1="554.19" y1="160.20" x2="554.19" y2="162.40" stroke="#555" stroke-width="0.70"/>
<line x1="556.37" y1="160.20" x2="556.37" y2="162.40" stroke="#555" stroke-width="0.70"/>
<line x1="558.21" y1="160.20" x2="558.21" y2="162.40" stroke="#555" stroke-width="0.70"/>
<line x1="559.80" y1="160.20" x2="559.80" y2="162.40" stroke="#555" stroke-width="0.70"/>
<line x1="561.21" y1="160.20" x2="561.21" y2="162.40" stroke="#555" stroke-width="0.70"/>
<line x1="502.47" y1="160.20" x2="502.47" y2="163.80" stroke="#444" stroke-width="0.90"/>
<line x1="534.99" y1="160.20" x2="534.99" y2="163.80" stroke="#444" stroke-width="0.90"/>
<line x1="562.46" y1="160.20" x2="562.46" y2="163.80" stroke="#444" stroke-width="0.90"/>
<line x1="454.20" y1="160.20" x2="454.20" y2="162.20" stroke="#555" stroke-width="0.70"/>
<line x1="456.40" y1="160.20" x2="456.40" y2="162.20" stroke="#555" stroke-width="0.70"/>
<line x1="458.60" y1="160.20" x2="458.60" y2="162.20" stroke="#555" stroke-width="0.70"/>
<line x1="460.80" y1="160.20" x2="460.80" y2="162.20" stroke="#555" stroke-width="0.70"/>
<line x1="463.00" y1="160.20" x2="463.00" y2="162.20" stroke="#555" stroke-width="0.70"/>
<line x1="465.20" y1="160.20" x2="465.20" y2="162.20" stroke="#555" stroke-width="0.70"/>
<line x1="467.40" y1="160.20" x2="467.40" y2="162.20" stroke="#555" stroke-width="0.70"/>
<line x1="469.60" y1="160.20" x2="469.60" y2="162.20" stroke="#555" stroke-width="0.70"/>
<line x1="471.80" y1="160.20" x2="471.80" y2="162.20" stroke="#555" stroke-width="0.70"/>
<line x1="474.00" y1="160.20" x2="474.00" y2="162.20" stroke="#555" stroke-width="0.70"/>
<line x1="476.20" y1="160.20" x2="476.20" y2="162.20" stroke="#555" stroke-width="0.70"/>
<line x1="478.40" y1="160.20" x2="478.40" y2="162.20" stroke="#555" stroke-width="0.70"/>
<rect x="472.53" y="160.20" width="7.5" height="2.6" fill="#111"/>
<text x="25.42" y="32.20" font-size="11.20" font-weight="normal" fill="#1a1a1a" stroke="#1a1a1a" stroke-width="0.3" textLength="85.14" lengthAdjust="spacingAndGlyphs">Na&#239;ve CD8 T cells</text>
<text x="160.57" y="32.20" font-size="11.20" font-weight="normal" fill="#1a1a1a" stroke="#1a1a1a" stroke-width="0.3" textLength="99.74" lengthAdjust="spacingAndGlyphs">Memory CD8 T cells</text>
<text x="328.42" y="32.20" font-size="11.20" font-weight="normal" fill="#1a1a1a" stroke="#1a1a1a" stroke-width="0.3" textLength="85.14" lengthAdjust="spacingAndGlyphs">Na&#239;ve CD8 T cells</text>
<text x="457.39" y="32.20" font-size="11.20" font-weight="normal" fill="#1a1a1a" stroke="#1a1a1a" stroke-width="0.3" textLength="99.33" lengthAdjust="spacingAndGlyphs">Memory CD8 T cells</text>
<line x1="22.00" y1="174.50" x2="62.00" y2="174.50" stroke="#111" stroke-width="1.00"/>
<path d="M61.00,171 L68.00,174.5 L61.00,178 Z" fill="#111"/>
<line x1="332.00" y1="174.50" x2="369.60" y2="174.50" stroke="#111" stroke-width="1.00"/>
<path d="M368.60,171 L375.60,174.5 L368.60,178 Z" fill="#111"/>
<text x="74.99" y="179.60" font-size="12.20" font-weight="normal" fill="#1a1a1a" stroke="#1a1a1a" stroke-width="0.3" textLength="45.34" lengthAdjust="spacingAndGlyphs">2-NBDG</text>
<text x="390.18" y="178.90" font-size="12.20" font-weight="normal" fill="#1a1a1a" stroke="#1a1a1a" stroke-width="0.3" textLength="58.38" lengthAdjust="spacingAndGlyphs">GLUT1- PE</text>
<rect x="596.30" y="34.00" width="17.4" height="72.50" fill="#fff" stroke="#3c3c3c" stroke-width="0.9"/>
<rect x="600.10" y="37.80" width="9.4" height="7.6" fill="#ececec" stroke="#c6c6c6" stroke-width="1.3"/>
<text x="617.84" y="44.80" font-size="10.40" font-weight="normal" fill="#111" textLength="43.72" lengthAdjust="spacingAndGlyphs">Non-Act</text>
<line x1="596.30" y1="49.20" x2="613.70" y2="49.20" stroke="#3c3c3c" stroke-width="0.90"/>
<rect x="600.10" y="52.45" width="9.4" height="7.6" fill="#d4d4d4" stroke="#505050" stroke-width="1.3"/>
<text x="619.00" y="59.80" font-size="10.40" font-weight="normal" fill="#111" textLength="17.58" lengthAdjust="spacingAndGlyphs">Act</text>
<line x1="596.30" y1="63.30" x2="613.70" y2="63.30" stroke="#3c3c3c" stroke-width="0.90"/>
<rect x="600.10" y="66.45" width="9.4" height="7.6" fill="#f7e3c9" stroke="#e98c36" stroke-width="1.3"/>
<text x="619.00" y="74.90" font-size="10.40" font-weight="normal" fill="#111" textLength="66.09" lengthAdjust="spacingAndGlyphs">Act+JAK1/3i</text>
<line x1="596.30" y1="77.20" x2="613.70" y2="77.20" stroke="#3c3c3c" stroke-width="0.90"/>
<rect x="600.10" y="80.60" width="9.4" height="7.6" fill="#cbcbec" stroke="#3e3eae" stroke-width="1.3"/>
<text x="619.00" y="89.70" font-size="10.40" font-weight="normal" fill="#111" textLength="55.29" lengthAdjust="spacingAndGlyphs">Act+JAK1i</text>
<line x1="596.30" y1="91.60" x2="613.70" y2="91.60" stroke="#3c3c3c" stroke-width="0.90"/>
<rect x="600.10" y="95.25" width="9.4" height="7.6" fill="#f3d3d8" stroke="#e2424f" stroke-width="1.3"/>
<text x="619.00" y="104.50" font-size="10.40" font-weight="normal" fill="#111" textLength="66.09" lengthAdjust="spacingAndGlyphs">Act+JAK1/2i</text>
<line x1="55.00" y1="252.03" x2="55.00" y2="422.30" stroke="#555" stroke-width="1.20"/>
<line x1="54.40" y1="422.30" x2="295.62" y2="422.30" stroke="#555" stroke-width="1.20"/>
<line x1="49.50" y1="422.30" x2="55.00" y2="422.30" stroke="#555" stroke-width="1.20"/>
<text x="46.40" y="426.90" font-size="12.60" font-weight="normal" fill="#1a1a1a" text-anchor="end">0</text>
<line x1="55.00" y1="422.30" x2="55.00" y2="427.80" stroke="#555" stroke-width="1.20"/>
<text x="54.40" y="442.00" font-size="12.60" font-weight="normal" fill="#1a1a1a" text-anchor="middle">0</text>
<line x1="49.50" y1="373.65" x2="55.00" y2="373.65" stroke="#555" stroke-width="1.20"/>
<text x="46.40" y="378.25" font-size="12.60" font-weight="normal" fill="#1a1a1a" text-anchor="end">20</text>
<line x1="123.75" y1="422.30" x2="123.75" y2="427.80" stroke="#555" stroke-width="1.20"/>
<text x="123.15" y="442.00" font-size="12.60" font-weight="normal" fill="#1a1a1a" text-anchor="middle">20</text>
<line x1="49.50" y1="325.00" x2="55.00" y2="325.00" stroke="#555" stroke-width="1.20"/>
<text x="46.40" y="329.60" font-size="12.60" font-weight="normal" fill="#1a1a1a" text-anchor="end">40</text>
<line x1="192.50" y1="422.30" x2="192.50" y2="427.80" stroke="#555" stroke-width="1.20"/>
<text x="191.90" y="442.00" font-size="12.60" font-weight="normal" fill="#1a1a1a" text-anchor="middle">40</text>
<line x1="49.50" y1="276.35" x2="55.00" y2="276.35" stroke="#555" stroke-width="1.20"/>
<text x="46.40" y="280.95" font-size="12.60" font-weight="normal" fill="#1a1a1a" text-anchor="end">60</text>
<line x1="261.25" y1="422.30" x2="261.25" y2="427.80" stroke="#555" stroke-width="1.20"/>
<text x="260.65" y="442.00" font-size="12.60" font-weight="normal" fill="#1a1a1a" text-anchor="middle">60</text>
<line x1="369.25" y1="253.15" x2="369.25" y2="423.25" stroke="#555" stroke-width="1.20"/>
<line x1="368.65" y1="423.25" x2="609.88" y2="423.25" stroke="#555" stroke-width="1.20"/>
<line x1="363.75" y1="423.25" x2="369.25" y2="423.25" stroke="#555" stroke-width="1.20"/>
<text x="360.65" y="427.85" font-size="12.60" font-weight="normal" fill="#1a1a1a" text-anchor="end">0</text>
<line x1="369.25" y1="423.25" x2="369.25" y2="428.75" stroke="#555" stroke-width="1.20"/>
<text x="368.65" y="442.95" font-size="12.60" font-weight="normal" fill="#1a1a1a" text-anchor="middle">0</text>
<line x1="363.75" y1="374.65" x2="369.25" y2="374.65" stroke="#555" stroke-width="1.20"/>
<text x="360.65" y="379.25" font-size="12.60" font-weight="normal" fill="#1a1a1a" text-anchor="end">20</text>
<line x1="438.00" y1="423.25" x2="438.00" y2="428.75" stroke="#555" stroke-width="1.20"/>
<text x="437.40" y="442.95" font-size="12.60" font-weight="normal" fill="#1a1a1a" text-anchor="middle">20</text>
<line x1="363.75" y1="326.05" x2="369.25" y2="326.05" stroke="#555" stroke-width="1.20"/>
<text x="360.65" y="330.65" font-size="12.60" font-weight="normal" fill="#1a1a1a" text-anchor="end">40</text>
<line x1="506.75" y1="423.25" x2="506.75" y2="428.75" stroke="#555" stroke-width="1.20"/>
<text x="506.15" y="442.95" font-size="12.60" font-weight="normal" fill="#1a1a1a" text-anchor="middle">40</text>
<line x1="363.75" y1="277.45" x2="369.25" y2="277.45" stroke="#555" stroke-width="1.20"/>
<text x="360.65" y="282.05" font-size="12.60" font-weight="normal" fill="#1a1a1a" text-anchor="end">60</text>
<line x1="575.50" y1="423.25" x2="575.50" y2="428.75" stroke="#555" stroke-width="1.20"/>
<text x="574.90" y="442.95" font-size="12.60" font-weight="normal" fill="#1a1a1a" text-anchor="middle">60</text>
<text x="103.59" y="464.70" font-size="12.00" font-weight="normal" fill="#1a1a1a" textLength="161.85" lengthAdjust="spacingAndGlyphs">% 2-NBDG<tspan font-size="10" dy="-4.5">+</tspan><tspan dy="4.5"> Na&#239;ve CD8 T cells</tspan></text>
<text x="414.60" y="466.00" font-size="12.00" font-weight="normal" fill="#1a1a1a" textLength="173.44" lengthAdjust="spacingAndGlyphs">% 2-NBDG<tspan font-size="10" dy="-4.5">+</tspan><tspan dy="4.5"> Memory CD8 T cells</tspan></text>
<text transform="translate(25.50,433.01) rotate(-90)" font-size="12.00" font-weight="normal" fill="#1a1a1a" textLength="170.76" lengthAdjust="spacingAndGlyphs">% GLUT1<tspan font-size="10" dy="-4.5">+</tspan><tspan dy="4.5"> Naive CD8 T cells</tspan></text>
<text transform="translate(340.00,430.01) rotate(-90)" font-size="12.00" font-weight="normal" fill="#1a1a1a" textLength="181.81" lengthAdjust="spacingAndGlyphs">% GLUT1<tspan font-size="10" dy="-4.5">+</tspan><tspan dy="4.5"> Memory CD8 T cells</tspan></text>
<text x="62.98" y="256.00" font-size="12.00" font-weight="normal" fill="#1a1a1a" textLength="44.76" lengthAdjust="spacingAndGlyphs">p=0.017</text>
<text x="63.00" y="271.00" font-size="12.00" font-weight="normal" fill="#1a1a1a" textLength="34.47" lengthAdjust="spacingAndGlyphs">r=0.58</text>
<text x="374.89" y="257.50" font-size="12.00" font-weight="normal" fill="#1a1a1a" textLength="38.21" lengthAdjust="spacingAndGlyphs">p=0.03</text>
<text x="374.93" y="272.00" font-size="12.00" font-weight="normal" fill="#1a1a1a" textLength="36.55" lengthAdjust="spacingAndGlyphs">r=0.48</text>
<circle cx="179.50" cy="330.00" r="5.00" fill="#1c1d22" fill-opacity="0.92"/>
<circle cx="184.50" cy="334.50" r="5.00" fill="#1c1d22" fill-opacity="0.92"/>
<circle cx="258.75" cy="344.50" r="5.00" fill="#1c1d22" fill-opacity="0.92"/>
<circle cx="278.25" cy="325.00" r="5.00" fill="#1c1d22" fill-opacity="0.92"/>
<circle cx="88.75" cy="361.25" r="5.00" fill="#e69a4c" fill-opacity="0.92"/>
<circle cx="141.00" cy="351.75" r="5.00" fill="#e69a4c" fill-opacity="0.92"/>
<circle cx="196.25" cy="363.75" r="5.00" fill="#e69a4c" fill-opacity="0.92"/>
<circle cx="237.50" cy="347.00" r="5.00" fill="#e69a4c" fill-opacity="0.92"/>
<circle cx="70.75" cy="376.25" r="5.00" fill="#5b66b6" fill-opacity="0.92"/>
<circle cx="79.25" cy="385.75" r="5.00" fill="#5b66b6" fill-opacity="0.92"/>
<circle cx="183.00" cy="395.50" r="5.00" fill="#5b66b6" fill-opacity="0.92"/>
<circle cx="203.75" cy="396.00" r="5.00" fill="#5b66b6" fill-opacity="0.92"/>
<circle cx="64.50" cy="390.75" r="5.00" fill="#e23c2c" fill-opacity="0.92"/>
<circle cx="72.50" cy="395.50" r="5.00" fill="#e23c2c" fill-opacity="0.92"/>
<circle cx="123.00" cy="398.00" r="5.00" fill="#e23c2c" fill-opacity="0.92"/>
<circle cx="133.00" cy="410.00" r="5.00" fill="#e23c2c" fill-opacity="0.92"/>
<circle cx="527.00" cy="265.50" r="5.00" fill="#1c1d22" fill-opacity="0.92"/>
<circle cx="503.00" cy="279.50" r="5.00" fill="#1c1d22" fill-opacity="0.92"/>
<circle cx="509.00" cy="282.00" r="5.00" fill="#1c1d22" fill-opacity="0.92"/>
<circle cx="495.50" cy="328.75" r="5.00" fill="#1c1d22" fill-opacity="0.92"/>
<circle cx="412.90" cy="293.30" r="5.00" fill="#e69a4c" fill-opacity="0.92"/>
<circle cx="417.10" cy="304.10" r="5.00" fill="#e69a4c" fill-opacity="0.92"/>
<circle cx="430.20" cy="311.30" r="5.00" fill="#e69a4c" fill-opacity="0.92"/>
<circle cx="417.50" cy="357.75" r="5.00" fill="#e69a4c" fill-opacity="0.92"/>
<circle cx="419.30" cy="291.90" r="5.00" fill="#5b66b6" fill-opacity="0.92"/>
<circle cx="410.00" cy="299.70" r="5.00" fill="#5b66b6" fill-opacity="0.92"/>
<circle cx="425.50" cy="318.75" r="5.00" fill="#5b66b6" fill-opacity="0.92"/>
<circle cx="404.25" cy="355.25" r="5.00" fill="#5b66b6" fill-opacity="0.92"/>
<circle cx="403.25" cy="292.00" r="5.00" fill="#e23c2c" fill-opacity="0.92"/>
<circle cx="407.30" cy="294.90" r="5.00" fill="#e23c2c" fill-opacity="0.92"/>
<circle cx="429.00" cy="301.50" r="5.00" fill="#e23c2c" fill-opacity="0.92"/>
<circle cx="402.50" cy="340.75" r="5.00" fill="#e23c2c" fill-opacity="0.92"/>
<circle cx="602.5" cy="245.50" r="6.3" fill="#1c1d22"/>
<text x="615.03" y="249.00" font-size="10.60" font-weight="normal" fill="#111" textLength="16.50" lengthAdjust="spacingAndGlyphs">Act</text>
<circle cx="602.5" cy="262.60" r="6.3" fill="#e69a4c"/>
<text x="615.08" y="266.80" font-size="10.60" font-weight="normal" fill="#111" textLength="65.83" lengthAdjust="spacingAndGlyphs">Act+JAK1/3i</text>
<circle cx="602.5" cy="279.70" r="6.3" fill="#5b66b6"/>
<text x="614.47" y="283.70" font-size="10.60" font-weight="normal" fill="#111" textLength="55.83" lengthAdjust="spacingAndGlyphs">Act+JAK1i</text>
<circle cx="602.5" cy="296.80" r="6.3" fill="#e23c2c"/>
<text x="613.79" y="301.20" font-size="10.60" font-weight="normal" fill="#111" textLength="66.53" lengthAdjust="spacingAndGlyphs">Act+JAK1/2i</text>
<line x1="57.30" y1="536.45" x2="57.30" y2="673.75" stroke="#4a4a4a" stroke-width="1.20"/>
<line x1="56.70" y1="673.75" x2="154.90" y2="673.75" stroke="#4a4a4a" stroke-width="1.20"/>
<line x1="51.30" y1="673.45" x2="57.30" y2="673.45" stroke="#4a4a4a" stroke-width="1.20"/>
<text x="50.00" y="677.05" font-size="10.20" font-weight="bold" fill="#111" text-anchor="end">1.2</text>
<line x1="51.30" y1="639.20" x2="57.30" y2="639.20" stroke="#4a4a4a" stroke-width="1.20"/>
<text x="50.00" y="642.80" font-size="10.20" font-weight="bold" fill="#111" text-anchor="end">1.4</text>
<line x1="51.30" y1="604.95" x2="57.30" y2="604.95" stroke="#4a4a4a" stroke-width="1.20"/>
<text x="50.00" y="608.55" font-size="10.20" font-weight="bold" fill="#111" text-anchor="end">1.6</text>
<line x1="51.30" y1="570.70" x2="57.30" y2="570.70" stroke="#4a4a4a" stroke-width="1.20"/>
<text x="50.00" y="574.30" font-size="10.20" font-weight="bold" fill="#111" text-anchor="end">1.8</text>
<line x1="51.30" y1="536.45" x2="57.30" y2="536.45" stroke="#4a4a4a" stroke-width="1.20"/>
<text x="50.00" y="540.05" font-size="10.20" font-weight="bold" fill="#111" text-anchor="end">2.0</text>
<line x1="79.70" y1="673.75" x2="79.70" y2="678.25" stroke="#4a4a4a" stroke-width="1.20"/>
<line x1="132.30" y1="673.75" x2="132.30" y2="678.25" stroke="#4a4a4a" stroke-width="1.20"/>
<text x="75.44" y="692.00" font-size="12.60" font-weight="bold" fill="#111" textLength="9.15" lengthAdjust="spacingAndGlyphs">N</text>
<text x="120.12" y="692.00" font-size="12.60" font-weight="bold" fill="#111" textLength="27.91" lengthAdjust="spacingAndGlyphs">Mem</text>
<text x="64.27" y="536.60" font-size="10.90" font-weight="normal" fill="#222" textLength="36.58" lengthAdjust="spacingAndGlyphs">p=0.001</text>
<line x1="71.10" y1="537.60" x2="90.00" y2="537.60" stroke="#707070" stroke-width="1.20"/>
<text x="120.19" y="535.30" font-size="10.90" font-weight="normal" fill="#222" textLength="36.05" lengthAdjust="spacingAndGlyphs">p=0.008</text>
<line x1="128.60" y1="538.10" x2="147.70" y2="538.10" stroke="#707070" stroke-width="1.20"/>
<rect x="87.00" y="562.56" width="6" height="6" fill="#e89c4a"/>
<rect x="87.00" y="567.70" width="6" height="6" fill="#e89c4a"/>
<rect x="87.00" y="569.41" width="6" height="6" fill="#e89c4a"/>
<rect x="87.00" y="571.12" width="6" height="6" fill="#e89c4a"/>
<rect x="87.00" y="615.65" width="6" height="6" fill="#e89c4a"/>
<rect x="139.00" y="550.58" width="6" height="6" fill="#e89c4a"/>
<rect x="139.00" y="562.56" width="6" height="6" fill="#e89c4a"/>
<rect x="139.00" y="567.70" width="6" height="6" fill="#e89c4a"/>
<rect x="139.00" y="581.40" width="6" height="6" fill="#e89c4a"/>
<line x1="70.00" y1="584.40" x2="90.00" y2="565.56" stroke="#111" stroke-width="1.00"/>
<line x1="70.00" y1="594.68" x2="90.00" y2="570.70" stroke="#111" stroke-width="1.00"/>
<line x1="70.00" y1="601.53" x2="90.00" y2="572.41" stroke="#111" stroke-width="1.00"/>
<line x1="70.00" y1="608.38" x2="90.00" y2="574.12" stroke="#111" stroke-width="1.00"/>
<line x1="70.00" y1="639.20" x2="90.00" y2="618.65" stroke="#111" stroke-width="1.00"/>
<line x1="122.30" y1="572.41" x2="142.00" y2="553.58" stroke="#111" stroke-width="1.00"/>
<line x1="122.30" y1="577.55" x2="142.00" y2="570.70" stroke="#111" stroke-width="1.00"/>
<line x1="122.30" y1="587.83" x2="142.00" y2="565.56" stroke="#111" stroke-width="1.00"/>
<line x1="122.30" y1="591.25" x2="142.00" y2="568.99" stroke="#111" stroke-width="1.00"/>
<line x1="122.30" y1="594.68" x2="142.00" y2="584.40" stroke="#111" stroke-width="1.00"/>
<circle cx="70.00" cy="584.40" r="3.1" fill="#000"/>
<circle cx="70.00" cy="594.68" r="3.1" fill="#000"/>
<circle cx="70.00" cy="601.53" r="3.1" fill="#000"/>
<circle cx="70.00" cy="608.38" r="3.1" fill="#000"/>
<circle cx="70.00" cy="639.20" r="3.1" fill="#000"/>
<circle cx="122.30" cy="572.41" r="3.1" fill="#000"/>
<circle cx="122.30" cy="577.55" r="3.1" fill="#000"/>
<circle cx="122.30" cy="587.83" r="3.1" fill="#000"/>
<circle cx="122.30" cy="591.25" r="3.1" fill="#000"/>
<circle cx="122.30" cy="594.68" r="3.1" fill="#000"/>
<circle cx="57.30" cy="543.40" r="1.35" fill="#000"/>
<circle cx="63.12" cy="543.40" r="1.35" fill="#000"/>
<circle cx="68.94" cy="543.40" r="1.35" fill="#000"/>
<circle cx="74.76" cy="543.40" r="1.35" fill="#000"/>
<circle cx="80.58" cy="543.40" r="1.35" fill="#000"/>
<circle cx="86.40" cy="543.40" r="1.35" fill="#000"/>
<circle cx="92.22" cy="543.40" r="1.35" fill="#000"/>
<circle cx="98.04" cy="543.40" r="1.35" fill="#000"/>
<circle cx="103.86" cy="543.40" r="1.35" fill="#000"/>
<circle cx="109.68" cy="543.40" r="1.35" fill="#000"/>
<circle cx="115.50" cy="543.40" r="1.35" fill="#000"/>
<circle cx="121.32" cy="543.40" r="1.35" fill="#000"/>
<circle cx="127.14" cy="543.40" r="1.35" fill="#000"/>
<circle cx="132.96" cy="543.40" r="1.35" fill="#000"/>
<circle cx="138.78" cy="543.40" r="1.35" fill="#000"/>
<circle cx="144.60" cy="543.40" r="1.35" fill="#000"/>
<circle cx="150.42" cy="543.40" r="1.35" fill="#000"/>
<text transform="translate(29.80,643.07) rotate(-90)" font-size="12.60" font-weight="bold" fill="#111" textLength="77.15" lengthAdjust="spacingAndGlyphs">Glucose g/L</text>
<line x1="241.30" y1="535.88" x2="241.30" y2="673.46" stroke="#4a4a4a" stroke-width="1.20"/>
<line x1="240.70" y1="673.46" x2="338.90" y2="673.46" stroke="#4a4a4a" stroke-width="1.20"/>
<line x1="235.30" y1="673.16" x2="241.30" y2="673.16" stroke="#4a4a4a" stroke-width="1.20"/>
<text x="234.00" y="676.76" font-size="10.20" font-weight="bold" fill="#111" text-anchor="end">1.2</text>
<line x1="235.30" y1="638.84" x2="241.30" y2="638.84" stroke="#4a4a4a" stroke-width="1.20"/>
<text x="234.00" y="642.44" font-size="10.20" font-weight="bold" fill="#111" text-anchor="end">1.4</text>
<line x1="235.30" y1="604.52" x2="241.30" y2="604.52" stroke="#4a4a4a" stroke-width="1.20"/>
<text x="234.00" y="608.12" font-size="10.20" font-weight="bold" fill="#111" text-anchor="end">1.6</text>
<line x1="235.30" y1="570.20" x2="241.30" y2="570.20" stroke="#4a4a4a" stroke-width="1.20"/>
<text x="234.00" y="573.80" font-size="10.20" font-weight="bold" fill="#111" text-anchor="end">1.8</text>
<line x1="235.30" y1="535.88" x2="241.30" y2="535.88" stroke="#4a4a4a" stroke-width="1.20"/>
<text x="234.00" y="539.48" font-size="10.20" font-weight="bold" fill="#111" text-anchor="end">2.0</text>
<line x1="263.70" y1="673.46" x2="263.70" y2="677.96" stroke="#4a4a4a" stroke-width="1.20"/>
<line x1="316.30" y1="673.46" x2="316.30" y2="677.96" stroke="#4a4a4a" stroke-width="1.20"/>
<text x="259.81" y="692.00" font-size="12.60" font-weight="bold" fill="#111" textLength="9.15" lengthAdjust="spacingAndGlyphs">N</text>
<text x="303.39" y="692.00" font-size="12.60" font-weight="bold" fill="#111" textLength="28.86" lengthAdjust="spacingAndGlyphs">Mem</text>
<text x="248.69" y="535.00" font-size="10.90" font-weight="normal" fill="#222" textLength="36.77" lengthAdjust="spacingAndGlyphs">p=0.002</text>
<line x1="256.10" y1="536.10" x2="274.50" y2="536.10" stroke="#707070" stroke-width="1.20"/>
<text x="304.70" y="535.00" font-size="10.90" font-weight="normal" fill="#222" textLength="36.38" lengthAdjust="spacingAndGlyphs">p=0.002</text>
<line x1="313.30" y1="536.10" x2="332.00" y2="536.10" stroke="#707070" stroke-width="1.20"/>
<rect x="271.25" y="560.34" width="6" height="6" fill="#5a69bf"/>
<rect x="271.25" y="565.48" width="6" height="6" fill="#5a69bf"/>
<rect x="271.25" y="568.92" width="6" height="6" fill="#5a69bf"/>
<rect x="271.25" y="574.06" width="6" height="6" fill="#5a69bf"/>
<rect x="271.25" y="592.94" width="6" height="6" fill="#5a69bf"/>
<rect x="323.50" y="546.61" width="6" height="6" fill="#5a69bf"/>
<rect x="323.50" y="560.34" width="6" height="6" fill="#5a69bf"/>
<rect x="323.50" y="563.77" width="6" height="6" fill="#5a69bf"/>
<rect x="323.50" y="574.06" width="6" height="6" fill="#5a69bf"/>
<line x1="254.75" y1="583.93" x2="274.25" y2="563.34" stroke="#111" stroke-width="1.00"/>
<line x1="254.75" y1="594.22" x2="274.25" y2="568.48" stroke="#111" stroke-width="1.00"/>
<line x1="254.75" y1="601.09" x2="274.25" y2="571.92" stroke="#111" stroke-width="1.00"/>
<line x1="254.75" y1="607.95" x2="274.25" y2="577.06" stroke="#111" stroke-width="1.00"/>
<line x1="254.75" y1="638.84" x2="274.25" y2="595.94" stroke="#111" stroke-width="1.00"/>
<line x1="306.75" y1="571.92" x2="326.50" y2="549.61" stroke="#111" stroke-width="1.00"/>
<line x1="306.75" y1="577.06" x2="326.50" y2="566.77" stroke="#111" stroke-width="1.00"/>
<line x1="306.75" y1="587.36" x2="326.50" y2="563.34" stroke="#111" stroke-width="1.00"/>
<line x1="306.75" y1="590.79" x2="326.50" y2="566.77" stroke="#111" stroke-width="1.00"/>
<line x1="306.75" y1="594.22" x2="326.50" y2="577.06" stroke="#111" stroke-width="1.00"/>
<circle cx="254.75" cy="583.93" r="3.1" fill="#000"/>
<circle cx="254.75" cy="594.22" r="3.1" fill="#000"/>
<circle cx="254.75" cy="601.09" r="3.1" fill="#000"/>
<circle cx="254.75" cy="607.95" r="3.1" fill="#000"/>
<circle cx="254.75" cy="638.84" r="3.1" fill="#000"/>
<circle cx="306.75" cy="571.92" r="3.1" fill="#000"/>
<circle cx="306.75" cy="577.06" r="3.1" fill="#000"/>
<circle cx="306.75" cy="587.36" r="3.1" fill="#000"/>
<circle cx="306.75" cy="590.79" r="3.1" fill="#000"/>
<circle cx="306.75" cy="594.22" r="3.1" fill="#000"/>
<circle cx="241.30" cy="542.60" r="1.35" fill="#000"/>
<circle cx="247.12" cy="542.60" r="1.35" fill="#000"/>
<circle cx="252.94" cy="542.60" r="1.35" fill="#000"/>
<circle cx="258.76" cy="542.60" r="1.35" fill="#000"/>
<circle cx="264.58" cy="542.60" r="1.35" fill="#000"/>
<circle cx="270.40" cy="542.60" r="1.35" fill="#000"/>
<circle cx="276.22" cy="542.60" r="1.35" fill="#000"/>
<circle cx="282.04" cy="542.60" r="1.35" fill="#000"/>
<circle cx="287.86" cy="542.60" r="1.35" fill="#000"/>
<circle cx="293.68" cy="542.60" r="1.35" fill="#000"/>
<circle cx="299.50" cy="542.60" r="1.35" fill="#000"/>
<circle cx="305.32" cy="542.60" r="1.35" fill="#000"/>
<circle cx="311.14" cy="542.60" r="1.35" fill="#000"/>
<circle cx="316.96" cy="542.60" r="1.35" fill="#000"/>
<circle cx="322.78" cy="542.60" r="1.35" fill="#000"/>
<circle cx="328.60" cy="542.60" r="1.35" fill="#000"/>
<circle cx="334.42" cy="542.60" r="1.35" fill="#000"/>
<text transform="translate(213.80,643.07) rotate(-90)" font-size="12.60" font-weight="bold" fill="#111" textLength="77.15" lengthAdjust="spacingAndGlyphs">Glucose g/L</text>
<line x1="417.30" y1="535.88" x2="417.30" y2="673.46" stroke="#4a4a4a" stroke-width="1.20"/>
<line x1="416.70" y1="673.46" x2="514.90" y2="673.46" stroke="#4a4a4a" stroke-width="1.20"/>
<line x1="411.30" y1="673.16" x2="417.30" y2="673.16" stroke="#4a4a4a" stroke-width="1.20"/>
<text x="410.00" y="676.76" font-size="10.20" font-weight="bold" fill="#111" text-anchor="end">1.2</text>
<line x1="411.30" y1="638.84" x2="417.30" y2="638.84" stroke="#4a4a4a" stroke-width="1.20"/>
<text x="410.00" y="642.44" font-size="10.20" font-weight="bold" fill="#111" text-anchor="end">1.4</text>
<line x1="411.30" y1="604.52" x2="417.30" y2="604.52" stroke="#4a4a4a" stroke-width="1.20"/>
<text x="410.00" y="608.12" font-size="10.20" font-weight="bold" fill="#111" text-anchor="end">1.6</text>
<line x1="411.30" y1="570.20" x2="417.30" y2="570.20" stroke="#4a4a4a" stroke-width="1.20"/>
<text x="410.00" y="573.80" font-size="10.20" font-weight="bold" fill="#111" text-anchor="end">1.8</text>
<line x1="411.30" y1="535.88" x2="417.30" y2="535.88" stroke="#4a4a4a" stroke-width="1.20"/>
<text x="410.00" y="539.48" font-size="10.20" font-weight="bold" fill="#111" text-anchor="end">2.0</text>
<line x1="439.70" y1="673.46" x2="439.70" y2="677.96" stroke="#4a4a4a" stroke-width="1.20"/>
<line x1="492.30" y1="673.46" x2="492.30" y2="677.96" stroke="#4a4a4a" stroke-width="1.20"/>
<text x="435.81" y="692.00" font-size="12.60" font-weight="bold" fill="#111" textLength="9.15" lengthAdjust="spacingAndGlyphs">N</text>
<text x="479.39" y="692.00" font-size="12.60" font-weight="bold" fill="#111" textLength="28.86" lengthAdjust="spacingAndGlyphs">Mem</text>
<text x="424.30" y="535.60" font-size="10.90" font-weight="normal" fill="#222" textLength="36.19" lengthAdjust="spacingAndGlyphs">p=0.001</text>
<line x1="431.10" y1="537.30" x2="450.30" y2="537.30" stroke="#707070" stroke-width="1.20"/>
<text x="480.77" y="535.30" font-size="10.90" font-weight="normal" fill="#222" textLength="35.69" lengthAdjust="spacingAndGlyphs">p=0.006</text>
<line x1="489.00" y1="537.30" x2="507.70" y2="537.30" stroke="#707070" stroke-width="1.20"/>
<rect x="447.00" y="551.76" width="6" height="6" fill="#e6504a"/>
<rect x="447.00" y="553.47" width="6" height="6" fill="#e6504a"/>
<rect x="447.00" y="558.62" width="6" height="6" fill="#e6504a"/>
<rect x="447.00" y="568.92" width="6" height="6" fill="#e6504a"/>
<rect x="447.00" y="575.78" width="6" height="6" fill="#e6504a"/>
<rect x="499.50" y="543.18" width="6" height="6" fill="#e6504a"/>
<rect x="499.50" y="553.47" width="6" height="6" fill="#e6504a"/>
<rect x="499.50" y="556.90" width="6" height="6" fill="#e6504a"/>
<rect x="499.50" y="565.48" width="6" height="6" fill="#e6504a"/>
<rect x="499.50" y="574.06" width="6" height="6" fill="#e6504a"/>
<line x1="430.25" y1="583.93" x2="450.00" y2="554.76" stroke="#111" stroke-width="1.00"/>
<line x1="430.25" y1="594.22" x2="450.00" y2="556.47" stroke="#111" stroke-width="1.00"/>
<line x1="430.25" y1="601.09" x2="450.00" y2="561.62" stroke="#111" stroke-width="1.00"/>
<line x1="430.25" y1="607.95" x2="450.00" y2="571.92" stroke="#111" stroke-width="1.00"/>
<line x1="430.25" y1="638.84" x2="450.00" y2="578.78" stroke="#111" stroke-width="1.00"/>
<line x1="482.75" y1="571.92" x2="502.50" y2="546.18" stroke="#111" stroke-width="1.00"/>
<line x1="482.75" y1="577.06" x2="502.50" y2="568.48" stroke="#111" stroke-width="1.00"/>
<line x1="482.75" y1="587.36" x2="502.50" y2="556.47" stroke="#111" stroke-width="1.00"/>
<line x1="482.75" y1="590.79" x2="502.50" y2="559.90" stroke="#111" stroke-width="1.00"/>
<line x1="482.75" y1="594.22" x2="502.50" y2="577.06" stroke="#111" stroke-width="1.00"/>
<circle cx="430.25" cy="583.93" r="3.1" fill="#000"/>
<circle cx="430.25" cy="594.22" r="3.1" fill="#000"/>
<circle cx="430.25" cy="601.09" r="3.1" fill="#000"/>
<circle cx="430.25" cy="607.95" r="3.1" fill="#000"/>
<circle cx="430.25" cy="638.84" r="3.1" fill="#000"/>
<circle cx="482.75" cy="571.92" r="3.1" fill="#000"/>
<circle cx="482.75" cy="577.06" r="3.1" fill="#000"/>
<circle cx="482.75" cy="587.36" r="3.1" fill="#000"/>
<circle cx="482.75" cy="590.79" r="3.1" fill="#000"/>
<circle cx="482.75" cy="594.22" r="3.1" fill="#000"/>
<circle cx="417.30" cy="542.60" r="1.35" fill="#000"/>
<circle cx="423.12" cy="542.60" r="1.35" fill="#000"/>
<circle cx="428.94" cy="542.60" r="1.35" fill="#000"/>
<circle cx="434.76" cy="542.60" r="1.35" fill="#000"/>
<circle cx="440.58" cy="542.60" r="1.35" fill="#000"/>
<circle cx="446.40" cy="542.60" r="1.35" fill="#000"/>
<circle cx="452.22" cy="542.60" r="1.35" fill="#000"/>
<circle cx="458.04" cy="542.60" r="1.35" fill="#000"/>
<circle cx="463.86" cy="542.60" r="1.35" fill="#000"/>
<circle cx="469.68" cy="542.60" r="1.35" fill="#000"/>
<circle cx="475.50" cy="542.60" r="1.35" fill="#000"/>
<circle cx="481.32" cy="542.60" r="1.35" fill="#000"/>
<circle cx="487.14" cy="542.60" r="1.35" fill="#000"/>
<circle cx="492.96" cy="542.60" r="1.35" fill="#000"/>
<circle cx="498.78" cy="542.60" r="1.35" fill="#000"/>
<circle cx="504.60" cy="542.60" r="1.35" fill="#000"/>
<circle cx="510.42" cy="542.60" r="1.35" fill="#000"/>
<text transform="translate(389.80,643.07) rotate(-90)" font-size="12.60" font-weight="bold" fill="#111" textLength="77.15" lengthAdjust="spacingAndGlyphs">Glucose g/L</text>
<line x1="56.60" y1="740.30" x2="56.60" y2="875.30" stroke="#4a4a4a" stroke-width="1.20"/>
<line x1="56.00" y1="875.30" x2="157.40" y2="875.30" stroke="#4a4a4a" stroke-width="1.20"/>
<line x1="50.60" y1="875.30" x2="56.60" y2="875.30" stroke="#4a4a4a" stroke-width="1.20"/>
<text x="49.30" y="878.90" font-size="10.20" font-weight="bold" fill="#111" text-anchor="end">0</text>
<line x1="50.60" y1="841.55" x2="56.60" y2="841.55" stroke="#4a4a4a" stroke-width="1.20"/>
<text x="49.30" y="845.15" font-size="10.20" font-weight="bold" fill="#111" text-anchor="end">2</text>
<line x1="50.60" y1="807.80" x2="56.60" y2="807.80" stroke="#4a4a4a" stroke-width="1.20"/>
<text x="49.30" y="811.40" font-size="10.20" font-weight="bold" fill="#111" text-anchor="end">4</text>
<line x1="50.60" y1="774.05" x2="56.60" y2="774.05" stroke="#4a4a4a" stroke-width="1.20"/>
<text x="49.30" y="777.65" font-size="10.20" font-weight="bold" fill="#111" text-anchor="end">6</text>
<line x1="50.60" y1="740.30" x2="56.60" y2="740.30" stroke="#4a4a4a" stroke-width="1.20"/>
<text x="49.30" y="743.90" font-size="10.20" font-weight="bold" fill="#111" text-anchor="end">8</text>
<line x1="79.80" y1="875.30" x2="79.80" y2="879.80" stroke="#4a4a4a" stroke-width="1.20"/>
<line x1="133.20" y1="875.30" x2="133.20" y2="879.80" stroke="#4a4a4a" stroke-width="1.20"/>
<text x="76.58" y="892.40" font-size="10.80" font-weight="bold" fill="#111" textLength="7.68" lengthAdjust="spacingAndGlyphs">N</text>
<text x="119.98" y="892.40" font-size="10.80" font-weight="bold" fill="#111" textLength="25.29" lengthAdjust="spacingAndGlyphs">Mem</text>
<text x="63.16" y="748.70" font-size="10.90" font-weight="normal" fill="#222" textLength="42.80" lengthAdjust="spacingAndGlyphs">p&lt;0.0001</text>
<line x1="70.30" y1="751.20" x2="90.00" y2="751.20" stroke="#707070" stroke-width="1.20"/>
<text x="119.18" y="748.70" font-size="10.90" font-weight="normal" fill="#222" textLength="30.11" lengthAdjust="spacingAndGlyphs">p=0.01</text>
<line x1="129.30" y1="751.20" x2="148.50" y2="751.20" stroke="#707070" stroke-width="1.20"/>
<rect x="87.00" y="791.30" width="6" height="6" fill="#e89c4a"/>
<rect x="87.00" y="823.36" width="6" height="6" fill="#e89c4a"/>
<rect x="87.00" y="826.74" width="6" height="6" fill="#e89c4a"/>
<rect x="87.00" y="828.42" width="6" height="6" fill="#e89c4a"/>
<rect x="87.00" y="836.86" width="6" height="6" fill="#e89c4a"/>
<rect x="140.00" y="823.36" width="6" height="6" fill="#e89c4a"/>
<rect x="140.00" y="833.49" width="6" height="6" fill="#e89c4a"/>
<rect x="140.00" y="835.17" width="6" height="6" fill="#e89c4a"/>
<rect x="140.00" y="836.86" width="6" height="6" fill="#e89c4a"/>
<rect x="140.00" y="838.55" width="6" height="6" fill="#e89c4a"/>
<line x1="70.00" y1="774.05" x2="90.00" y2="794.30" stroke="#111" stroke-width="1.00"/>
<line x1="70.00" y1="797.67" x2="90.00" y2="826.36" stroke="#111" stroke-width="1.00"/>
<line x1="70.00" y1="804.42" x2="90.00" y2="829.74" stroke="#111" stroke-width="1.00"/>
<line x1="70.00" y1="807.80" x2="90.00" y2="831.42" stroke="#111" stroke-width="1.00"/>
<line x1="70.00" y1="811.17" x2="90.00" y2="839.86" stroke="#111" stroke-width="1.00"/>
<line x1="123.25" y1="814.55" x2="143.00" y2="826.36" stroke="#111" stroke-width="1.00"/>
<line x1="123.25" y1="816.24" x2="143.00" y2="836.49" stroke="#111" stroke-width="1.00"/>
<line x1="123.25" y1="824.67" x2="143.00" y2="838.17" stroke="#111" stroke-width="1.00"/>
<line x1="123.25" y1="826.36" x2="143.00" y2="839.86" stroke="#111" stroke-width="1.00"/>
<line x1="123.25" y1="833.11" x2="143.00" y2="836.49" stroke="#111" stroke-width="1.00"/>
<circle cx="70.00" cy="774.05" r="3.1" fill="#000"/>
<circle cx="70.00" cy="797.67" r="3.1" fill="#000"/>
<circle cx="70.00" cy="804.42" r="3.1" fill="#000"/>
<circle cx="70.00" cy="807.80" r="3.1" fill="#000"/>
<circle cx="70.00" cy="811.17" r="3.1" fill="#000"/>
<circle cx="123.25" cy="814.55" r="3.1" fill="#000"/>
<circle cx="123.25" cy="816.24" r="3.1" fill="#000"/>
<circle cx="123.25" cy="824.67" r="3.1" fill="#000"/>
<circle cx="123.25" cy="826.36" r="3.1" fill="#000"/>
<circle cx="123.25" cy="833.11" r="3.1" fill="#000"/>
<circle cx="56.60" cy="844.30" r="1.35" fill="#000"/>
<circle cx="62.56" cy="844.30" r="1.35" fill="#000"/>
<circle cx="68.52" cy="844.30" r="1.35" fill="#000"/>
<circle cx="74.48" cy="844.30" r="1.35" fill="#000"/>
<circle cx="80.44" cy="844.30" r="1.35" fill="#000"/>
<circle cx="86.40" cy="844.30" r="1.35" fill="#000"/>
<circle cx="92.36" cy="844.30" r="1.35" fill="#000"/>
<circle cx="98.32" cy="844.30" r="1.35" fill="#000"/>
<circle cx="104.28" cy="844.30" r="1.35" fill="#000"/>
<circle cx="110.24" cy="844.30" r="1.35" fill="#000"/>
<circle cx="116.20" cy="844.30" r="1.35" fill="#000"/>
<circle cx="122.16" cy="844.30" r="1.35" fill="#000"/>
<circle cx="128.12" cy="844.30" r="1.35" fill="#000"/>
<circle cx="134.08" cy="844.30" r="1.35" fill="#000"/>
<circle cx="140.04" cy="844.30" r="1.35" fill="#000"/>
<circle cx="146.00" cy="844.30" r="1.35" fill="#000"/>
<circle cx="151.96" cy="844.30" r="1.35" fill="#000"/>
<circle cx="157.92" cy="844.30" r="1.35" fill="#000"/>
<text transform="translate(38.50,866.33) rotate(-90)" font-size="12.60" font-weight="bold" fill="#111" textLength="112.03" lengthAdjust="spacingAndGlyphs">Lactic acid mmol/L</text>
<line x1="241.60" y1="739.30" x2="241.60" y2="874.30" stroke="#4a4a4a" stroke-width="1.20"/>
<line x1="241.00" y1="874.30" x2="342.40" y2="874.30" stroke="#4a4a4a" stroke-width="1.20"/>
<line x1="235.60" y1="874.30" x2="241.60" y2="874.30" stroke="#4a4a4a" stroke-width="1.20"/>
<text x="234.30" y="877.90" font-size="10.20" font-weight="bold" fill="#111" text-anchor="end">0</text>
<line x1="235.60" y1="840.55" x2="241.60" y2="840.55" stroke="#4a4a4a" stroke-width="1.20"/>
<text x="234.30" y="844.15" font-size="10.20" font-weight="bold" fill="#111" text-anchor="end">2</text>
<line x1="235.60" y1="806.80" x2="241.60" y2="806.80" stroke="#4a4a4a" stroke-width="1.20"/>
<text x="234.30" y="810.40" font-size="10.20" font-weight="bold" fill="#111" text-anchor="end">4</text>
<line x1="235.60" y1="773.05" x2="241.60" y2="773.05" stroke="#4a4a4a" stroke-width="1.20"/>
<text x="234.30" y="776.65" font-size="10.20" font-weight="bold" fill="#111" text-anchor="end">6</text>
<line x1="235.60" y1="739.30" x2="241.60" y2="739.30" stroke="#4a4a4a" stroke-width="1.20"/>
<text x="234.30" y="742.90" font-size="10.20" font-weight="bold" fill="#111" text-anchor="end">8</text>
<line x1="264.80" y1="874.30" x2="264.80" y2="878.80" stroke="#4a4a4a" stroke-width="1.20"/>
<line x1="318.20" y1="874.30" x2="318.20" y2="878.80" stroke="#4a4a4a" stroke-width="1.20"/>
<text x="260.81" y="892.40" font-size="10.80" font-weight="bold" fill="#111" textLength="7.68" lengthAdjust="spacingAndGlyphs">N</text>
<text x="305.18" y="892.40" font-size="10.80" font-weight="bold" fill="#111" textLength="25.38" lengthAdjust="spacingAndGlyphs">Mem</text>
<text x="248.25" y="748.40" font-size="10.90" font-weight="normal" fill="#222" textLength="42.74" lengthAdjust="spacingAndGlyphs">p&lt;0.0001</text>
<line x1="255.30" y1="750.20" x2="275.00" y2="750.20" stroke="#707070" stroke-width="1.20"/>
<text x="304.24" y="748.40" font-size="10.90" font-weight="normal" fill="#222" textLength="37.70" lengthAdjust="spacingAndGlyphs">p=0.006</text>
<line x1="314.30" y1="750.20" x2="333.80" y2="750.20" stroke="#707070" stroke-width="1.20"/>
<rect x="272.50" y="807.17" width="6" height="6" fill="#5a69bf"/>
<rect x="272.50" y="824.05" width="6" height="6" fill="#5a69bf"/>
<rect x="272.50" y="830.80" width="6" height="6" fill="#5a69bf"/>
<rect x="272.50" y="839.24" width="6" height="6" fill="#5a69bf"/>
<rect x="325.50" y="824.05" width="6" height="6" fill="#5a69bf"/>
<rect x="325.50" y="832.49" width="6" height="6" fill="#5a69bf"/>
<rect x="325.50" y="835.86" width="6" height="6" fill="#5a69bf"/>
<rect x="325.50" y="839.24" width="6" height="6" fill="#5a69bf"/>
<line x1="255.25" y1="773.05" x2="275.50" y2="810.17" stroke="#111" stroke-width="1.00"/>
<line x1="255.25" y1="796.67" x2="275.50" y2="827.05" stroke="#111" stroke-width="1.00"/>
<line x1="255.25" y1="803.42" x2="275.50" y2="833.80" stroke="#111" stroke-width="1.00"/>
<line x1="255.25" y1="806.80" x2="275.50" y2="842.24" stroke="#111" stroke-width="1.00"/>
<line x1="255.25" y1="810.17" x2="275.50" y2="842.24" stroke="#111" stroke-width="1.00"/>
<line x1="308.50" y1="813.55" x2="328.50" y2="827.05" stroke="#111" stroke-width="1.00"/>
<line x1="308.50" y1="815.24" x2="328.50" y2="835.49" stroke="#111" stroke-width="1.00"/>
<line x1="308.50" y1="823.67" x2="328.50" y2="838.86" stroke="#111" stroke-width="1.00"/>
<line x1="308.50" y1="825.36" x2="328.50" y2="842.24" stroke="#111" stroke-width="1.00"/>
<line x1="308.50" y1="832.11" x2="328.50" y2="838.86" stroke="#111" stroke-width="1.00"/>
<circle cx="255.25" cy="773.05" r="3.1" fill="#000"/>
<circle cx="255.25" cy="796.67" r="3.1" fill="#000"/>
<circle cx="255.25" cy="803.42" r="3.1" fill="#000"/>
<circle cx="255.25" cy="806.80" r="3.1" fill="#000"/>
<circle cx="255.25" cy="810.17" r="3.1" fill="#000"/>
<circle cx="308.50" cy="813.55" r="3.1" fill="#000"/>
<circle cx="308.50" cy="815.24" r="3.1" fill="#000"/>
<circle cx="308.50" cy="823.67" r="3.1" fill="#000"/>
<circle cx="308.50" cy="825.36" r="3.1" fill="#000"/>
<circle cx="308.50" cy="832.11" r="3.1" fill="#000"/>
<circle cx="241.60" cy="843.60" r="1.35" fill="#000"/>
<circle cx="247.56" cy="843.60" r="1.35" fill="#000"/>
<circle cx="253.52" cy="843.60" r="1.35" fill="#000"/>
<circle cx="259.48" cy="843.60" r="1.35" fill="#000"/>
<circle cx="265.44" cy="843.60" r="1.35" fill="#000"/>
<circle cx="271.40" cy="843.60" r="1.35" fill="#000"/>
<circle cx="277.36" cy="843.60" r="1.35" fill="#000"/>
<circle cx="283.32" cy="843.60" r="1.35" fill="#000"/>
<circle cx="289.28" cy="843.60" r="1.35" fill="#000"/>
<circle cx="295.24" cy="843.60" r="1.35" fill="#000"/>
<circle cx="301.20" cy="843.60" r="1.35" fill="#000"/>
<circle cx="307.16" cy="843.60" r="1.35" fill="#000"/>
<circle cx="313.12" cy="843.60" r="1.35" fill="#000"/>
<circle cx="319.08" cy="843.60" r="1.35" fill="#000"/>
<circle cx="325.04" cy="843.60" r="1.35" fill="#000"/>
<circle cx="331.00" cy="843.60" r="1.35" fill="#000"/>
<circle cx="336.96" cy="843.60" r="1.35" fill="#000"/>
<circle cx="342.92" cy="843.60" r="1.35" fill="#000"/>
<text transform="translate(223.50,866.33) rotate(-90)" font-size="12.60" font-weight="bold" fill="#111" textLength="112.03" lengthAdjust="spacingAndGlyphs">Lactic acid mmol/L</text>
<line x1="416.90" y1="741.50" x2="416.90" y2="874.50" stroke="#4a4a4a" stroke-width="1.20"/>
<line x1="416.30" y1="874.50" x2="517.70" y2="874.50" stroke="#4a4a4a" stroke-width="1.20"/>
<line x1="410.90" y1="874.50" x2="416.90" y2="874.50" stroke="#4a4a4a" stroke-width="1.20"/>
<text x="409.60" y="878.10" font-size="10.20" font-weight="bold" fill="#111" text-anchor="end">0</text>
<line x1="410.90" y1="841.25" x2="416.90" y2="841.25" stroke="#4a4a4a" stroke-width="1.20"/>
<text x="409.60" y="844.85" font-size="10.20" font-weight="bold" fill="#111" text-anchor="end">2</text>
<line x1="410.90" y1="808.00" x2="416.90" y2="808.00" stroke="#4a4a4a" stroke-width="1.20"/>
<text x="409.60" y="811.60" font-size="10.20" font-weight="bold" fill="#111" text-anchor="end">4</text>
<line x1="410.90" y1="774.75" x2="416.90" y2="774.75" stroke="#4a4a4a" stroke-width="1.20"/>
<text x="409.60" y="778.35" font-size="10.20" font-weight="bold" fill="#111" text-anchor="end">6</text>
<line x1="410.90" y1="741.50" x2="416.90" y2="741.50" stroke="#4a4a4a" stroke-width="1.20"/>
<text x="409.60" y="745.10" font-size="10.20" font-weight="bold" fill="#111" text-anchor="end">8</text>
<line x1="440.10" y1="874.50" x2="440.10" y2="879.00" stroke="#4a4a4a" stroke-width="1.20"/>
<line x1="493.50" y1="874.50" x2="493.50" y2="879.00" stroke="#4a4a4a" stroke-width="1.20"/>
<text x="436.29" y="892.40" font-size="10.80" font-weight="bold" fill="#111" textLength="7.68" lengthAdjust="spacingAndGlyphs">N</text>
<text x="480.79" y="892.40" font-size="10.80" font-weight="bold" fill="#111" textLength="25.43" lengthAdjust="spacingAndGlyphs">Mem</text>
<text x="423.45" y="748.70" font-size="10.90" font-weight="normal" fill="#222" textLength="42.81" lengthAdjust="spacingAndGlyphs">p=0.0007</text>
<line x1="431.10" y1="751.20" x2="450.00" y2="751.20" stroke="#707070" stroke-width="1.20"/>
<text x="479.27" y="748.70" font-size="10.90" font-weight="normal" fill="#222" textLength="36.66" lengthAdjust="spacingAndGlyphs">p=0.001</text>
<line x1="489.30" y1="751.20" x2="508.80" y2="751.20" stroke="#707070" stroke-width="1.20"/>
<rect x="447.25" y="818.30" width="6" height="6" fill="#e6504a"/>
<rect x="447.25" y="824.95" width="6" height="6" fill="#e6504a"/>
<rect x="447.25" y="834.92" width="6" height="6" fill="#e6504a"/>
<rect x="447.25" y="838.25" width="6" height="6" fill="#e6504a"/>
<rect x="447.25" y="841.58" width="6" height="6" fill="#e6504a"/>
<rect x="501.00" y="824.95" width="6" height="6" fill="#e6504a"/>
<rect x="501.00" y="834.92" width="6" height="6" fill="#e6504a"/>
<rect x="501.00" y="838.25" width="6" height="6" fill="#e6504a"/>
<rect x="501.00" y="841.58" width="6" height="6" fill="#e6504a"/>
<line x1="430.25" y1="774.75" x2="450.25" y2="827.95" stroke="#111" stroke-width="1.00"/>
<line x1="430.25" y1="798.02" x2="450.25" y2="821.30" stroke="#111" stroke-width="1.00"/>
<line x1="430.25" y1="804.67" x2="450.25" y2="841.25" stroke="#111" stroke-width="1.00"/>
<line x1="430.25" y1="808.00" x2="450.25" y2="841.25" stroke="#111" stroke-width="1.00"/>
<line x1="430.25" y1="811.33" x2="450.25" y2="844.58" stroke="#111" stroke-width="1.00"/>
<line x1="430.25" y1="824.62" x2="450.25" y2="841.25" stroke="#111" stroke-width="1.00"/>
<line x1="430.25" y1="827.95" x2="450.25" y2="842.91" stroke="#111" stroke-width="1.00"/>
<line x1="483.75" y1="814.65" x2="504.00" y2="827.95" stroke="#111" stroke-width="1.00"/>
<line x1="483.75" y1="816.31" x2="504.00" y2="837.92" stroke="#111" stroke-width="1.00"/>
<line x1="483.75" y1="824.62" x2="504.00" y2="841.25" stroke="#111" stroke-width="1.00"/>
<line x1="483.75" y1="826.29" x2="504.00" y2="841.25" stroke="#111" stroke-width="1.00"/>
<line x1="483.75" y1="827.95" x2="504.00" y2="844.58" stroke="#111" stroke-width="1.00"/>
<line x1="483.75" y1="831.27" x2="504.00" y2="841.25" stroke="#111" stroke-width="1.00"/>
<line x1="483.75" y1="832.94" x2="504.00" y2="837.92" stroke="#111" stroke-width="1.00"/>
<circle cx="430.25" cy="774.75" r="3.1" fill="#000"/>
<circle cx="430.25" cy="798.02" r="3.1" fill="#000"/>
<circle cx="430.25" cy="804.67" r="3.1" fill="#000"/>
<circle cx="430.25" cy="808.00" r="3.1" fill="#000"/>
<circle cx="430.25" cy="811.33" r="3.1" fill="#000"/>
<circle cx="430.25" cy="824.62" r="3.1" fill="#000"/>
<circle cx="430.25" cy="827.95" r="3.1" fill="#000"/>
<circle cx="483.75" cy="814.65" r="3.1" fill="#000"/>
<circle cx="483.75" cy="816.31" r="3.1" fill="#000"/>
<circle cx="483.75" cy="824.62" r="3.1" fill="#000"/>
<circle cx="483.75" cy="826.29" r="3.1" fill="#000"/>
<circle cx="483.75" cy="827.95" r="3.1" fill="#000"/>
<circle cx="483.75" cy="831.27" r="3.1" fill="#000"/>
<circle cx="483.75" cy="832.94" r="3.1" fill="#000"/>
<circle cx="416.90" cy="844.20" r="1.35" fill="#000"/>
<circle cx="422.86" cy="844.20" r="1.35" fill="#000"/>
<circle cx="428.82" cy="844.20" r="1.35" fill="#000"/>
<circle cx="434.78" cy="844.20" r="1.35" fill="#000"/>
<circle cx="440.74" cy="844.20" r="1.35" fill="#000"/>
<circle cx="446.70" cy="844.20" r="1.35" fill="#000"/>
<circle cx="452.66" cy="844.20" r="1.35" fill="#000"/>
<circle cx="458.62" cy="844.20" r="1.35" fill="#000"/>
<circle cx="464.58" cy="844.20" r="1.35" fill="#000"/>
<circle cx="470.54" cy="844.20" r="1.35" fill="#000"/>
<circle cx="476.50" cy="844.20" r="1.35" fill="#000"/>
<circle cx="482.46" cy="844.20" r="1.35" fill="#000"/>
<circle cx="488.42" cy="844.20" r="1.35" fill="#000"/>
<circle cx="494.38" cy="844.20" r="1.35" fill="#000"/>
<circle cx="500.34" cy="844.20" r="1.35" fill="#000"/>
<circle cx="506.30" cy="844.20" r="1.35" fill="#000"/>
<circle cx="512.26" cy="844.20" r="1.35" fill="#000"/>
<circle cx="518.22" cy="844.20" r="1.35" fill="#000"/>
<text transform="translate(398.80,866.33) rotate(-90)" font-size="12.60" font-weight="bold" fill="#111" textLength="112.03" lengthAdjust="spacingAndGlyphs">Lactic acid mmol/L</text>
<line x1="592.80" y1="542.90" x2="611.00" y2="542.90" stroke="#000" stroke-width="1.60"/>
<ellipse cx="602" cy="542.90" rx="3.9" ry="4.2" fill="#000"/>
<text x="619.13" y="547.00" font-size="11.00" font-weight="normal" fill="#111" textLength="17.94" lengthAdjust="spacingAndGlyphs">Act</text>
<line x1="592.80" y1="564.00" x2="611.00" y2="564.00" stroke="#000" stroke-width="1.60"/>
<rect x="598" y="559.80" width="8" height="8.4" fill="#e99c48"/>
<text x="618.41" y="566.40" font-size="11.00" font-weight="normal" fill="#111" textLength="64.81" lengthAdjust="spacingAndGlyphs">Act+JAK1/3i</text>
<line x1="592.80" y1="584.00" x2="611.00" y2="584.00" stroke="#000" stroke-width="1.60"/>
<rect x="598" y="579.80" width="8" height="8.4" fill="#4a5ab6"/>
<text x="618.45" y="586.70" font-size="11.00" font-weight="normal" fill="#111" textLength="56.17" lengthAdjust="spacingAndGlyphs">Act+JAK1i</text>
<line x1="592.80" y1="603.20" x2="611.00" y2="603.20" stroke="#000" stroke-width="1.60"/>
<rect x="598" y="599.00" width="8" height="8.4" fill="#e2444c"/>
<text x="617.21" y="605.80" font-size="11.00" font-weight="normal" fill="#111" textLength="65.88" lengthAdjust="spacingAndGlyphs">Act+JAK1/2i</text>
</svg></body></html>
